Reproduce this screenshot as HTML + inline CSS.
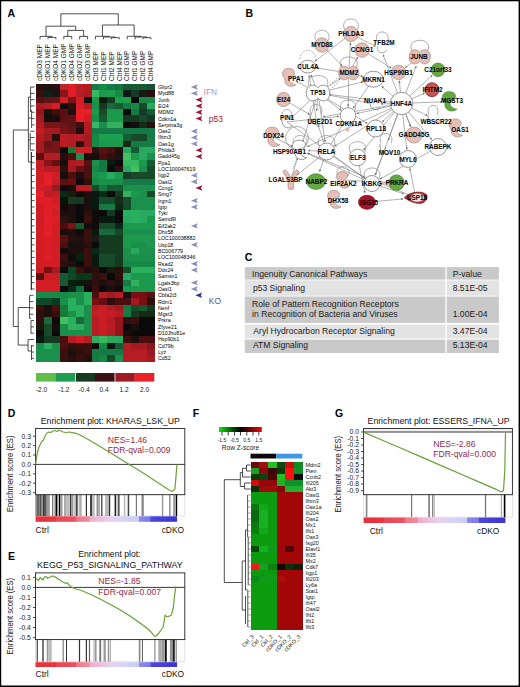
<!DOCTYPE html>
<html><head><meta charset="utf-8"><title>Figure</title>
<style>
html,body{margin:0;padding:0;background:#fff;}
body{width:520px;height:687px;overflow:hidden;}
svg{display:block;font-family:"Liberation Sans", sans-serif;}
</style></head><body>
<svg width="520" height="687" viewBox="0 0 520 687" font-family='"Liberation Sans", sans-serif'>
<rect width="520" height="687" fill="#fff"/>
<text x="7.60" y="17.30" font-size="10.5" fill="#000" text-anchor="start" font-weight="bold" >A</text>
<g shape-rendering="crispEdges">
<rect x="36.10" y="83.90" width="8.22" height="6.61" fill="#271110" />
<rect x="44.02" y="83.90" width="8.22" height="6.61" fill="#1e1110" />
<rect x="51.94" y="83.90" width="8.22" height="6.61" fill="#271110" />
<rect x="59.86" y="83.90" width="8.22" height="6.61" fill="#bc252c" />
<rect x="67.78" y="83.90" width="8.22" height="6.61" fill="#e21d26" />
<rect x="75.70" y="83.90" width="8.22" height="6.61" fill="#bc1d24" />
<rect x="83.62" y="83.90" width="8.22" height="6.61" fill="#b41a21" />
<rect x="91.54" y="83.90" width="8.22" height="6.61" fill="#167a46" />
<rect x="99.46" y="83.90" width="8.22" height="6.61" fill="#168a48" />
<rect x="107.38" y="83.90" width="8.22" height="6.61" fill="#167a46" />
<rect x="115.30" y="83.90" width="8.22" height="6.61" fill="#167041" />
<rect x="123.22" y="83.90" width="8.22" height="6.61" fill="#165a34" />
<rect x="131.14" y="83.90" width="8.22" height="6.61" fill="#165a34" />
<rect x="139.06" y="83.90" width="8.22" height="6.61" fill="#165a34" />
<rect x="146.98" y="83.90" width="8.22" height="6.61" fill="#165032" />
<rect x="36.10" y="90.21" width="8.22" height="6.61" fill="#370f0f" />
<rect x="44.02" y="90.21" width="8.22" height="6.61" fill="#0e2017" />
<rect x="51.94" y="90.21" width="8.22" height="6.61" fill="#181513" />
<rect x="59.86" y="90.21" width="8.22" height="6.61" fill="#871519" />
<rect x="67.78" y="90.21" width="8.22" height="6.61" fill="#e21f28" />
<rect x="75.70" y="90.21" width="8.22" height="6.61" fill="#b41d24" />
<rect x="83.62" y="90.21" width="8.22" height="6.61" fill="#ad1a20" />
<rect x="91.54" y="90.21" width="8.22" height="6.61" fill="#36b868" />
<rect x="99.46" y="90.21" width="8.22" height="6.61" fill="#1b9a4d" />
<rect x="107.38" y="90.21" width="8.22" height="6.61" fill="#1ba04d" />
<rect x="115.30" y="90.21" width="8.22" height="6.61" fill="#168a44" />
<rect x="123.22" y="90.21" width="8.22" height="6.61" fill="#0e1a17" />
<rect x="131.14" y="90.21" width="8.22" height="6.61" fill="#163a29" />
<rect x="139.06" y="90.21" width="8.22" height="6.61" fill="#1a1a10" />
<rect x="146.98" y="90.21" width="8.22" height="6.61" fill="#270f0e" />
<rect x="36.10" y="96.52" width="8.22" height="6.61" fill="#550f10" />
<rect x="44.02" y="96.52" width="8.22" height="6.61" fill="#5a1517" />
<rect x="51.94" y="96.52" width="8.22" height="6.61" fill="#691518" />
<rect x="59.86" y="96.52" width="8.22" height="6.61" fill="#d31d25" />
<rect x="67.78" y="96.52" width="8.22" height="6.61" fill="#781518" />
<rect x="75.70" y="96.52" width="8.22" height="6.61" fill="#d31d25" />
<rect x="83.62" y="96.52" width="8.22" height="6.61" fill="#101010" />
<rect x="91.54" y="96.52" width="8.22" height="6.61" fill="#1b9a4d" />
<rect x="99.46" y="96.52" width="8.22" height="6.61" fill="#081a10" />
<rect x="107.38" y="96.52" width="8.22" height="6.61" fill="#163a20" />
<rect x="115.30" y="96.52" width="8.22" height="6.61" fill="#1ba04d" />
<rect x="123.22" y="96.52" width="8.22" height="6.61" fill="#1ba04d" />
<rect x="131.14" y="96.52" width="8.22" height="6.61" fill="#0a0a0a" />
<rect x="139.06" y="96.52" width="8.22" height="6.61" fill="#1b8a44" />
<rect x="146.98" y="96.52" width="8.22" height="6.61" fill="#1b8a44" />
<rect x="36.10" y="102.83" width="8.22" height="6.61" fill="#a51a20" />
<rect x="44.02" y="102.83" width="8.22" height="6.61" fill="#b41d24" />
<rect x="51.94" y="102.83" width="8.22" height="6.61" fill="#d31d25" />
<rect x="59.86" y="102.83" width="8.22" height="6.61" fill="#100a0a" />
<rect x="67.78" y="102.83" width="8.22" height="6.61" fill="#2d0f0e" />
<rect x="75.70" y="102.83" width="8.22" height="6.61" fill="#da1d26" />
<rect x="83.62" y="102.83" width="8.22" height="6.61" fill="#b41a21" />
<rect x="91.54" y="102.83" width="8.22" height="6.61" fill="#1b904d" />
<rect x="99.46" y="102.83" width="8.22" height="6.61" fill="#163a20" />
<rect x="107.38" y="102.83" width="8.22" height="6.61" fill="#166a3b" />
<rect x="115.30" y="102.83" width="8.22" height="6.61" fill="#165a32" />
<rect x="123.22" y="102.83" width="8.22" height="6.61" fill="#167a44" />
<rect x="131.14" y="102.83" width="8.22" height="6.61" fill="#168a44" />
<rect x="139.06" y="102.83" width="8.22" height="6.61" fill="#164a29" />
<rect x="146.98" y="102.83" width="8.22" height="6.61" fill="#29a85f" />
<rect x="36.10" y="109.14" width="8.22" height="6.61" fill="#96151a" />
<rect x="44.02" y="109.14" width="8.22" height="6.61" fill="#180f0d" />
<rect x="51.94" y="109.14" width="8.22" height="6.61" fill="#3c0f0f" />
<rect x="59.86" y="109.14" width="8.22" height="6.61" fill="#5a0f11" />
<rect x="67.78" y="109.14" width="8.22" height="6.61" fill="#1e0f0e" />
<rect x="75.70" y="109.14" width="8.22" height="6.61" fill="#e91f28" />
<rect x="83.62" y="109.14" width="8.22" height="6.61" fill="#e91f28" />
<rect x="91.54" y="109.14" width="8.22" height="6.61" fill="#1b9a4d" />
<rect x="99.46" y="109.14" width="8.22" height="6.61" fill="#164a29" />
<rect x="107.38" y="109.14" width="8.22" height="6.61" fill="#1b9a4d" />
<rect x="115.30" y="109.14" width="8.22" height="6.61" fill="#1b9a4d" />
<rect x="123.22" y="109.14" width="8.22" height="6.61" fill="#0a0a0a" />
<rect x="131.14" y="109.14" width="8.22" height="6.61" fill="#167a44" />
<rect x="139.06" y="109.14" width="8.22" height="6.61" fill="#163a29" />
<rect x="146.98" y="109.14" width="8.22" height="6.61" fill="#165a32" />
<rect x="36.10" y="115.45" width="8.22" height="6.61" fill="#a51a20" />
<rect x="44.02" y="115.45" width="8.22" height="6.61" fill="#140f0d" />
<rect x="51.94" y="115.45" width="8.22" height="6.61" fill="#180f0d" />
<rect x="59.86" y="115.45" width="8.22" height="6.61" fill="#5a0f11" />
<rect x="67.78" y="115.45" width="8.22" height="6.61" fill="#690f12" />
<rect x="75.70" y="115.45" width="8.22" height="6.61" fill="#e91f28" />
<rect x="83.62" y="115.45" width="8.22" height="6.61" fill="#d31d25" />
<rect x="91.54" y="115.45" width="8.22" height="6.61" fill="#1b904d" />
<rect x="99.46" y="115.45" width="8.22" height="6.61" fill="#165a32" />
<rect x="107.38" y="115.45" width="8.22" height="6.61" fill="#1b9a4d" />
<rect x="115.30" y="115.45" width="8.22" height="6.61" fill="#1b9a4d" />
<rect x="123.22" y="115.45" width="8.22" height="6.61" fill="#163a20" />
<rect x="131.14" y="115.45" width="8.22" height="6.61" fill="#163a20" />
<rect x="139.06" y="115.45" width="8.22" height="6.61" fill="#164a29" />
<rect x="146.98" y="115.45" width="8.22" height="6.61" fill="#163a29" />
<rect x="36.10" y="121.76" width="8.22" height="6.61" fill="#b41a21" />
<rect x="44.02" y="121.76" width="8.22" height="6.61" fill="#781518" />
<rect x="51.94" y="121.76" width="8.22" height="6.61" fill="#781518" />
<rect x="59.86" y="121.76" width="8.22" height="6.61" fill="#691518" />
<rect x="67.78" y="121.76" width="8.22" height="6.61" fill="#5a1517" />
<rect x="75.70" y="121.76" width="8.22" height="6.61" fill="#3c0f0f" />
<rect x="83.62" y="121.76" width="8.22" height="6.61" fill="#b41a21" />
<rect x="91.54" y="121.76" width="8.22" height="6.61" fill="#36b868" />
<rect x="99.46" y="121.76" width="8.22" height="6.61" fill="#1b904d" />
<rect x="107.38" y="121.76" width="8.22" height="6.61" fill="#36b05f" />
<rect x="115.30" y="121.76" width="8.22" height="6.61" fill="#36b05f" />
<rect x="123.22" y="121.76" width="8.22" height="6.61" fill="#0a0a0a" />
<rect x="131.14" y="121.76" width="8.22" height="6.61" fill="#101010" />
<rect x="139.06" y="121.76" width="8.22" height="6.61" fill="#162a17" />
<rect x="146.98" y="121.76" width="8.22" height="6.61" fill="#270f0e" />
<rect x="36.10" y="128.07" width="8.22" height="6.61" fill="#c41d24" />
<rect x="44.02" y="128.07" width="8.22" height="6.61" fill="#a51a20" />
<rect x="51.94" y="128.07" width="8.22" height="6.61" fill="#a51a20" />
<rect x="59.86" y="128.07" width="8.22" height="6.61" fill="#781518" />
<rect x="67.78" y="128.07" width="8.22" height="6.61" fill="#691518" />
<rect x="75.70" y="128.07" width="8.22" height="6.61" fill="#1e0f0e" />
<rect x="83.62" y="128.07" width="8.22" height="6.61" fill="#b41a21" />
<rect x="91.54" y="128.07" width="8.22" height="6.61" fill="#137a48" />
<rect x="99.46" y="128.07" width="8.22" height="6.61" fill="#137a48" />
<rect x="107.38" y="128.07" width="8.22" height="6.61" fill="#137a48" />
<rect x="115.30" y="128.07" width="8.22" height="6.61" fill="#137a48" />
<rect x="123.22" y="128.07" width="8.22" height="6.61" fill="#137a48" />
<rect x="131.14" y="128.07" width="8.22" height="6.61" fill="#137a48" />
<rect x="139.06" y="128.07" width="8.22" height="6.61" fill="#137a48" />
<rect x="146.98" y="128.07" width="8.22" height="6.61" fill="#137a48" />
<rect x="36.10" y="134.38" width="8.22" height="6.61" fill="#b41a21" />
<rect x="44.02" y="134.38" width="8.22" height="6.61" fill="#961a1f" />
<rect x="51.94" y="134.38" width="8.22" height="6.61" fill="#270f0e" />
<rect x="59.86" y="134.38" width="8.22" height="6.61" fill="#bc1d24" />
<rect x="67.78" y="134.38" width="8.22" height="6.61" fill="#b41d24" />
<rect x="75.70" y="134.38" width="8.22" height="6.61" fill="#b41d24" />
<rect x="83.62" y="134.38" width="8.22" height="6.61" fill="#a51a20" />
<rect x="91.54" y="134.38" width="8.22" height="6.61" fill="#168a44" />
<rect x="99.46" y="134.38" width="8.22" height="6.61" fill="#1ba04d" />
<rect x="107.38" y="134.38" width="8.22" height="6.61" fill="#1ba04d" />
<rect x="115.30" y="134.38" width="8.22" height="6.61" fill="#1ba04d" />
<rect x="123.22" y="134.38" width="8.22" height="6.61" fill="#165a32" />
<rect x="131.14" y="134.38" width="8.22" height="6.61" fill="#164a29" />
<rect x="139.06" y="134.38" width="8.22" height="6.61" fill="#164a29" />
<rect x="146.98" y="134.38" width="8.22" height="6.61" fill="#167a44" />
<rect x="36.10" y="140.69" width="8.22" height="6.61" fill="#a51a20" />
<rect x="44.02" y="140.69" width="8.22" height="6.61" fill="#691518" />
<rect x="51.94" y="140.69" width="8.22" height="6.61" fill="#781518" />
<rect x="59.86" y="140.69" width="8.22" height="6.61" fill="#bc1d24" />
<rect x="67.78" y="140.69" width="8.22" height="6.61" fill="#ad1d23" />
<rect x="75.70" y="140.69" width="8.22" height="6.61" fill="#2d0f0e" />
<rect x="83.62" y="140.69" width="8.22" height="6.61" fill="#a51a20" />
<rect x="91.54" y="140.69" width="8.22" height="6.61" fill="#168a44" />
<rect x="99.46" y="140.69" width="8.22" height="6.61" fill="#1b9a4d" />
<rect x="107.38" y="140.69" width="8.22" height="6.61" fill="#1b9a4d" />
<rect x="115.30" y="140.69" width="8.22" height="6.61" fill="#1b9a4d" />
<rect x="123.22" y="140.69" width="8.22" height="6.61" fill="#162a17" />
<rect x="131.14" y="140.69" width="8.22" height="6.61" fill="#167a44" />
<rect x="139.06" y="140.69" width="8.22" height="6.61" fill="#167a44" />
<rect x="146.98" y="140.69" width="8.22" height="6.61" fill="#167a44" />
<rect x="36.10" y="147.00" width="8.22" height="6.61" fill="#a51a20" />
<rect x="44.02" y="147.00" width="8.22" height="6.61" fill="#781518" />
<rect x="51.94" y="147.00" width="8.22" height="6.61" fill="#781518" />
<rect x="59.86" y="147.00" width="8.22" height="6.61" fill="#0a0a0a" />
<rect x="67.78" y="147.00" width="8.22" height="6.61" fill="#167a34" />
<rect x="75.70" y="147.00" width="8.22" height="6.61" fill="#d31d25" />
<rect x="83.62" y="147.00" width="8.22" height="6.61" fill="#cb1d25" />
<rect x="91.54" y="147.00" width="8.22" height="6.61" fill="#2d0f0e" />
<rect x="99.46" y="147.00" width="8.22" height="6.61" fill="#5a0f11" />
<rect x="107.38" y="147.00" width="8.22" height="6.61" fill="#4b0f10" />
<rect x="115.30" y="147.00" width="8.22" height="6.61" fill="#1e0f0e" />
<rect x="123.22" y="147.00" width="8.22" height="6.61" fill="#29a85f" />
<rect x="131.14" y="147.00" width="8.22" height="6.61" fill="#165a32" />
<rect x="139.06" y="147.00" width="8.22" height="6.61" fill="#29a85f" />
<rect x="146.98" y="147.00" width="8.22" height="6.61" fill="#29a85f" />
<rect x="36.10" y="153.31" width="8.22" height="6.61" fill="#5a0f11" />
<rect x="44.02" y="153.31" width="8.22" height="6.61" fill="#b41d24" />
<rect x="51.94" y="153.31" width="8.22" height="6.61" fill="#b41d24" />
<rect x="59.86" y="153.31" width="8.22" height="6.61" fill="#270f0e" />
<rect x="67.78" y="153.31" width="8.22" height="6.61" fill="#4b0f10" />
<rect x="75.70" y="153.31" width="8.22" height="6.61" fill="#1b904d" />
<rect x="83.62" y="153.31" width="8.22" height="6.61" fill="#180f0d" />
<rect x="91.54" y="153.31" width="8.22" height="6.61" fill="#180f0d" />
<rect x="99.46" y="153.31" width="8.22" height="6.61" fill="#4b0f10" />
<rect x="107.38" y="153.31" width="8.22" height="6.61" fill="#2d0f0e" />
<rect x="115.30" y="153.31" width="8.22" height="6.61" fill="#1e0f14" />
<rect x="123.22" y="153.31" width="8.22" height="6.61" fill="#44c05f" />
<rect x="131.14" y="153.31" width="8.22" height="6.61" fill="#1b9a4d" />
<rect x="139.06" y="153.31" width="8.22" height="6.61" fill="#29a85f" />
<rect x="146.98" y="153.31" width="8.22" height="6.61" fill="#1b904d" />
<rect x="36.10" y="159.62" width="8.22" height="6.61" fill="#c41d24" />
<rect x="44.02" y="159.62" width="8.22" height="6.61" fill="#871519" />
<rect x="51.94" y="159.62" width="8.22" height="6.61" fill="#690f12" />
<rect x="59.86" y="159.62" width="8.22" height="6.61" fill="#180f0d" />
<rect x="67.78" y="159.62" width="8.22" height="6.61" fill="#ad1a20" />
<rect x="75.70" y="159.62" width="8.22" height="6.61" fill="#b41d24" />
<rect x="83.62" y="159.62" width="8.22" height="6.61" fill="#5a0f11" />
<rect x="91.54" y="159.62" width="8.22" height="6.61" fill="#1b904d" />
<rect x="99.46" y="159.62" width="8.22" height="6.61" fill="#167a44" />
<rect x="107.38" y="159.62" width="8.22" height="6.61" fill="#081a10" />
<rect x="115.30" y="159.62" width="8.22" height="6.61" fill="#0a0a0a" />
<rect x="123.22" y="159.62" width="8.22" height="6.61" fill="#36b85f" />
<rect x="131.14" y="159.62" width="8.22" height="6.61" fill="#36b85f" />
<rect x="139.06" y="159.62" width="8.22" height="6.61" fill="#1b9a4d" />
<rect x="146.98" y="159.62" width="8.22" height="6.61" fill="#165a32" />
<rect x="36.10" y="165.93" width="8.22" height="6.61" fill="#cb1d25" />
<rect x="44.02" y="165.93" width="8.22" height="6.61" fill="#b41d24" />
<rect x="51.94" y="165.93" width="8.22" height="6.61" fill="#b41d24" />
<rect x="59.86" y="165.93" width="8.22" height="6.61" fill="#2d0f0e" />
<rect x="67.78" y="165.93" width="8.22" height="6.61" fill="#a51a20" />
<rect x="75.70" y="165.93" width="8.22" height="6.61" fill="#690f12" />
<rect x="83.62" y="165.93" width="8.22" height="6.61" fill="#4b0f10" />
<rect x="91.54" y="165.93" width="8.22" height="6.61" fill="#168a44" />
<rect x="99.46" y="165.93" width="8.22" height="6.61" fill="#167a44" />
<rect x="107.38" y="165.93" width="8.22" height="6.61" fill="#0a0a0a" />
<rect x="115.30" y="165.93" width="8.22" height="6.61" fill="#2d0f14" />
<rect x="123.22" y="165.93" width="8.22" height="6.61" fill="#29a85f" />
<rect x="131.14" y="165.93" width="8.22" height="6.61" fill="#44c05f" />
<rect x="139.06" y="165.93" width="8.22" height="6.61" fill="#1b904d" />
<rect x="146.98" y="165.93" width="8.22" height="6.61" fill="#164a29" />
<rect x="36.10" y="172.24" width="8.22" height="6.61" fill="#d31d25" />
<rect x="44.02" y="172.24" width="8.22" height="6.61" fill="#e21f28" />
<rect x="51.94" y="172.24" width="8.22" height="6.61" fill="#d31d25" />
<rect x="59.86" y="172.24" width="8.22" height="6.61" fill="#180f0d" />
<rect x="67.78" y="172.24" width="8.22" height="6.61" fill="#4b0f10" />
<rect x="75.70" y="172.24" width="8.22" height="6.61" fill="#1e0f0e" />
<rect x="83.62" y="172.24" width="8.22" height="6.61" fill="#4b0f10" />
<rect x="91.54" y="172.24" width="8.22" height="6.61" fill="#1b904d" />
<rect x="99.46" y="172.24" width="8.22" height="6.61" fill="#1b9a4d" />
<rect x="107.38" y="172.24" width="8.22" height="6.61" fill="#29a85f" />
<rect x="115.30" y="172.24" width="8.22" height="6.61" fill="#1b9a4d" />
<rect x="123.22" y="172.24" width="8.22" height="6.61" fill="#163a29" />
<rect x="131.14" y="172.24" width="8.22" height="6.61" fill="#164a29" />
<rect x="139.06" y="172.24" width="8.22" height="6.61" fill="#164a29" />
<rect x="146.98" y="172.24" width="8.22" height="6.61" fill="#164a29" />
<rect x="36.10" y="178.55" width="8.22" height="6.61" fill="#d31d25" />
<rect x="44.02" y="178.55" width="8.22" height="6.61" fill="#e91f28" />
<rect x="51.94" y="178.55" width="8.22" height="6.61" fill="#c41d24" />
<rect x="59.86" y="178.55" width="8.22" height="6.61" fill="#5a0f11" />
<rect x="67.78" y="178.55" width="8.22" height="6.61" fill="#690f12" />
<rect x="75.70" y="178.55" width="8.22" height="6.61" fill="#100a0a" />
<rect x="83.62" y="178.55" width="8.22" height="6.61" fill="#2d0f0e" />
<rect x="91.54" y="178.55" width="8.22" height="6.61" fill="#168a44" />
<rect x="99.46" y="178.55" width="8.22" height="6.61" fill="#1b904d" />
<rect x="107.38" y="178.55" width="8.22" height="6.61" fill="#1b904d" />
<rect x="115.30" y="178.55" width="8.22" height="6.61" fill="#1b904d" />
<rect x="123.22" y="178.55" width="8.22" height="6.61" fill="#167a44" />
<rect x="131.14" y="178.55" width="8.22" height="6.61" fill="#167a44" />
<rect x="139.06" y="178.55" width="8.22" height="6.61" fill="#167a44" />
<rect x="146.98" y="178.55" width="8.22" height="6.61" fill="#167a44" />
<rect x="36.10" y="184.86" width="8.22" height="6.61" fill="#d31d25" />
<rect x="44.02" y="184.86" width="8.22" height="6.61" fill="#cb1d25" />
<rect x="51.94" y="184.86" width="8.22" height="6.61" fill="#961a1f" />
<rect x="59.86" y="184.86" width="8.22" height="6.61" fill="#100a0a" />
<rect x="67.78" y="184.86" width="8.22" height="6.61" fill="#180f0d" />
<rect x="75.70" y="184.86" width="8.22" height="6.61" fill="#b41d24" />
<rect x="83.62" y="184.86" width="8.22" height="6.61" fill="#bc1d24" />
<rect x="91.54" y="184.86" width="8.22" height="6.61" fill="#164a29" />
<rect x="99.46" y="184.86" width="8.22" height="6.61" fill="#167a44" />
<rect x="107.38" y="184.86" width="8.22" height="6.61" fill="#165a32" />
<rect x="115.30" y="184.86" width="8.22" height="6.61" fill="#165a32" />
<rect x="123.22" y="184.86" width="8.22" height="6.61" fill="#1b904d" />
<rect x="131.14" y="184.86" width="8.22" height="6.61" fill="#1b904d" />
<rect x="139.06" y="184.86" width="8.22" height="6.61" fill="#1b904d" />
<rect x="146.98" y="184.86" width="8.22" height="6.61" fill="#1b904d" />
<rect x="36.10" y="191.17" width="8.22" height="6.61" fill="#e91f28" />
<rect x="44.02" y="191.17" width="8.22" height="6.61" fill="#bc1d24" />
<rect x="51.94" y="191.17" width="8.22" height="6.61" fill="#c41d24" />
<rect x="59.86" y="191.17" width="8.22" height="6.61" fill="#082a17" />
<rect x="67.78" y="191.17" width="8.22" height="6.61" fill="#1a1a0a" />
<rect x="75.70" y="191.17" width="8.22" height="6.61" fill="#100a0a" />
<rect x="83.62" y="191.17" width="8.22" height="6.61" fill="#1e0f0e" />
<rect x="91.54" y="191.17" width="8.22" height="6.61" fill="#081a10" />
<rect x="99.46" y="191.17" width="8.22" height="6.61" fill="#082a17" />
<rect x="107.38" y="191.17" width="8.22" height="6.61" fill="#0a0a0a" />
<rect x="115.30" y="191.17" width="8.22" height="6.61" fill="#163a20" />
<rect x="123.22" y="191.17" width="8.22" height="6.61" fill="#36b05f" />
<rect x="131.14" y="191.17" width="8.22" height="6.61" fill="#1b9a4d" />
<rect x="139.06" y="191.17" width="8.22" height="6.61" fill="#1b904d" />
<rect x="146.98" y="191.17" width="8.22" height="6.61" fill="#164a29" />
<rect x="36.10" y="197.48" width="8.22" height="6.61" fill="#da1d26" />
<rect x="44.02" y="197.48" width="8.22" height="6.61" fill="#e21f28" />
<rect x="51.94" y="197.48" width="8.22" height="6.61" fill="#d31d25" />
<rect x="59.86" y="197.48" width="8.22" height="6.61" fill="#0a100a" />
<rect x="67.78" y="197.48" width="8.22" height="6.61" fill="#163a22" />
<rect x="75.70" y="197.48" width="8.22" height="6.61" fill="#163a22" />
<rect x="83.62" y="197.48" width="8.22" height="6.61" fill="#180f0d" />
<rect x="91.54" y="197.48" width="8.22" height="6.61" fill="#081a10" />
<rect x="99.46" y="197.48" width="8.22" height="6.61" fill="#164a29" />
<rect x="107.38" y="197.48" width="8.22" height="6.61" fill="#164a29" />
<rect x="115.30" y="197.48" width="8.22" height="6.61" fill="#162a17" />
<rect x="123.22" y="197.48" width="8.22" height="6.61" fill="#164a29" />
<rect x="131.14" y="197.48" width="8.22" height="6.61" fill="#1b904d" />
<rect x="139.06" y="197.48" width="8.22" height="6.61" fill="#1b904d" />
<rect x="146.98" y="197.48" width="8.22" height="6.61" fill="#1b904d" />
<rect x="36.10" y="203.79" width="8.22" height="6.61" fill="#d31d25" />
<rect x="44.02" y="203.79" width="8.22" height="6.61" fill="#e21f28" />
<rect x="51.94" y="203.79" width="8.22" height="6.61" fill="#da1d26" />
<rect x="59.86" y="203.79" width="8.22" height="6.61" fill="#100a0a" />
<rect x="67.78" y="203.79" width="8.22" height="6.61" fill="#1e0f0e" />
<rect x="75.70" y="203.79" width="8.22" height="6.61" fill="#0a0a0a" />
<rect x="83.62" y="203.79" width="8.22" height="6.61" fill="#1e0f0e" />
<rect x="91.54" y="203.79" width="8.22" height="6.61" fill="#081a10" />
<rect x="99.46" y="203.79" width="8.22" height="6.61" fill="#167a44" />
<rect x="107.38" y="203.79" width="8.22" height="6.61" fill="#167a44" />
<rect x="115.30" y="203.79" width="8.22" height="6.61" fill="#082a17" />
<rect x="123.22" y="203.79" width="8.22" height="6.61" fill="#164a29" />
<rect x="131.14" y="203.79" width="8.22" height="6.61" fill="#1b904d" />
<rect x="139.06" y="203.79" width="8.22" height="6.61" fill="#1b904d" />
<rect x="146.98" y="203.79" width="8.22" height="6.61" fill="#1b904d" />
<rect x="36.10" y="210.10" width="8.22" height="6.61" fill="#d31d25" />
<rect x="44.02" y="210.10" width="8.22" height="6.61" fill="#e21f28" />
<rect x="51.94" y="210.10" width="8.22" height="6.61" fill="#d31d25" />
<rect x="59.86" y="210.10" width="8.22" height="6.61" fill="#1e0f0e" />
<rect x="67.78" y="210.10" width="8.22" height="6.61" fill="#1e0f0e" />
<rect x="75.70" y="210.10" width="8.22" height="6.61" fill="#0a0a0a" />
<rect x="83.62" y="210.10" width="8.22" height="6.61" fill="#2d0f0e" />
<rect x="91.54" y="210.10" width="8.22" height="6.61" fill="#100a0a" />
<rect x="99.46" y="210.10" width="8.22" height="6.61" fill="#0a0a0a" />
<rect x="107.38" y="210.10" width="8.22" height="6.61" fill="#163a20" />
<rect x="115.30" y="210.10" width="8.22" height="6.61" fill="#0a0a0a" />
<rect x="123.22" y="210.10" width="8.22" height="6.61" fill="#29b05f" />
<rect x="131.14" y="210.10" width="8.22" height="6.61" fill="#29b05f" />
<rect x="139.06" y="210.10" width="8.22" height="6.61" fill="#29a85f" />
<rect x="146.98" y="210.10" width="8.22" height="6.61" fill="#29a85f" />
<rect x="36.10" y="216.41" width="8.22" height="6.61" fill="#cb1d25" />
<rect x="44.02" y="216.41" width="8.22" height="6.61" fill="#e21f28" />
<rect x="51.94" y="216.41" width="8.22" height="6.61" fill="#da1d26" />
<rect x="59.86" y="216.41" width="8.22" height="6.61" fill="#2d0f0e" />
<rect x="67.78" y="216.41" width="8.22" height="6.61" fill="#1e0f0e" />
<rect x="75.70" y="216.41" width="8.22" height="6.61" fill="#0a0a0a" />
<rect x="83.62" y="216.41" width="8.22" height="6.61" fill="#3c0f0f" />
<rect x="91.54" y="216.41" width="8.22" height="6.61" fill="#100a0a" />
<rect x="99.46" y="216.41" width="8.22" height="6.61" fill="#081a10" />
<rect x="107.38" y="216.41" width="8.22" height="6.61" fill="#081a10" />
<rect x="115.30" y="216.41" width="8.22" height="6.61" fill="#0a0a0a" />
<rect x="123.22" y="216.41" width="8.22" height="6.61" fill="#29a85f" />
<rect x="131.14" y="216.41" width="8.22" height="6.61" fill="#29b05f" />
<rect x="139.06" y="216.41" width="8.22" height="6.61" fill="#29a85f" />
<rect x="146.98" y="216.41" width="8.22" height="6.61" fill="#1b9a4d" />
<rect x="36.10" y="222.72" width="8.22" height="6.61" fill="#d31d25" />
<rect x="44.02" y="222.72" width="8.22" height="6.61" fill="#e21f28" />
<rect x="51.94" y="222.72" width="8.22" height="6.61" fill="#d31d25" />
<rect x="59.86" y="222.72" width="8.22" height="6.61" fill="#4b0f10" />
<rect x="67.78" y="222.72" width="8.22" height="6.61" fill="#781518" />
<rect x="75.70" y="222.72" width="8.22" height="6.61" fill="#165a29" />
<rect x="83.62" y="222.72" width="8.22" height="6.61" fill="#180f0d" />
<rect x="91.54" y="222.72" width="8.22" height="6.61" fill="#100a0a" />
<rect x="99.46" y="222.72" width="8.22" height="6.61" fill="#164a29" />
<rect x="107.38" y="222.72" width="8.22" height="6.61" fill="#164a29" />
<rect x="115.30" y="222.72" width="8.22" height="6.61" fill="#082a17" />
<rect x="123.22" y="222.72" width="8.22" height="6.61" fill="#1b9a4d" />
<rect x="131.14" y="222.72" width="8.22" height="6.61" fill="#1b9a4d" />
<rect x="139.06" y="222.72" width="8.22" height="6.61" fill="#1b9a4d" />
<rect x="146.98" y="222.72" width="8.22" height="6.61" fill="#1b9a4d" />
<rect x="36.10" y="229.03" width="8.22" height="6.61" fill="#d31d25" />
<rect x="44.02" y="229.03" width="8.22" height="6.61" fill="#e21f28" />
<rect x="51.94" y="229.03" width="8.22" height="6.61" fill="#d31d25" />
<rect x="59.86" y="229.03" width="8.22" height="6.61" fill="#180f0d" />
<rect x="67.78" y="229.03" width="8.22" height="6.61" fill="#1e0f0e" />
<rect x="75.70" y="229.03" width="8.22" height="6.61" fill="#100a0a" />
<rect x="83.62" y="229.03" width="8.22" height="6.61" fill="#3c0f0f" />
<rect x="91.54" y="229.03" width="8.22" height="6.61" fill="#081a10" />
<rect x="99.46" y="229.03" width="8.22" height="6.61" fill="#166a3b" />
<rect x="107.38" y="229.03" width="8.22" height="6.61" fill="#166a3b" />
<rect x="115.30" y="229.03" width="8.22" height="6.61" fill="#164a29" />
<rect x="123.22" y="229.03" width="8.22" height="6.61" fill="#1b904d" />
<rect x="131.14" y="229.03" width="8.22" height="6.61" fill="#1b904d" />
<rect x="139.06" y="229.03" width="8.22" height="6.61" fill="#1b904d" />
<rect x="146.98" y="229.03" width="8.22" height="6.61" fill="#1b904d" />
<rect x="36.10" y="235.34" width="8.22" height="6.61" fill="#d31d25" />
<rect x="44.02" y="235.34" width="8.22" height="6.61" fill="#da1d26" />
<rect x="51.94" y="235.34" width="8.22" height="6.61" fill="#d31d25" />
<rect x="59.86" y="235.34" width="8.22" height="6.61" fill="#5a0f11" />
<rect x="67.78" y="235.34" width="8.22" height="6.61" fill="#270f0e" />
<rect x="75.70" y="235.34" width="8.22" height="6.61" fill="#1e0f0e" />
<rect x="83.62" y="235.34" width="8.22" height="6.61" fill="#3c0f0f" />
<rect x="91.54" y="235.34" width="8.22" height="6.61" fill="#1a1a10" />
<rect x="99.46" y="235.34" width="8.22" height="6.61" fill="#163a20" />
<rect x="107.38" y="235.34" width="8.22" height="6.61" fill="#163a20" />
<rect x="115.30" y="235.34" width="8.22" height="6.61" fill="#163a20" />
<rect x="123.22" y="235.34" width="8.22" height="6.61" fill="#1b9a4d" />
<rect x="131.14" y="235.34" width="8.22" height="6.61" fill="#1b9a4d" />
<rect x="139.06" y="235.34" width="8.22" height="6.61" fill="#1b9a4d" />
<rect x="146.98" y="235.34" width="8.22" height="6.61" fill="#1b9a4d" />
<rect x="36.10" y="241.65" width="8.22" height="6.61" fill="#d31d25" />
<rect x="44.02" y="241.65" width="8.22" height="6.61" fill="#da1d26" />
<rect x="51.94" y="241.65" width="8.22" height="6.61" fill="#d31d25" />
<rect x="59.86" y="241.65" width="8.22" height="6.61" fill="#4b0f10" />
<rect x="67.78" y="241.65" width="8.22" height="6.61" fill="#180f0d" />
<rect x="75.70" y="241.65" width="8.22" height="6.61" fill="#1e0f0e" />
<rect x="83.62" y="241.65" width="8.22" height="6.61" fill="#2d0f0e" />
<rect x="91.54" y="241.65" width="8.22" height="6.61" fill="#0a0a0a" />
<rect x="99.46" y="241.65" width="8.22" height="6.61" fill="#163a20" />
<rect x="107.38" y="241.65" width="8.22" height="6.61" fill="#163a20" />
<rect x="115.30" y="241.65" width="8.22" height="6.61" fill="#163a20" />
<rect x="123.22" y="241.65" width="8.22" height="6.61" fill="#1b9a4d" />
<rect x="131.14" y="241.65" width="8.22" height="6.61" fill="#1b904d" />
<rect x="139.06" y="241.65" width="8.22" height="6.61" fill="#1b904d" />
<rect x="146.98" y="241.65" width="8.22" height="6.61" fill="#1b9a4d" />
<rect x="36.10" y="247.96" width="8.22" height="6.61" fill="#d31d25" />
<rect x="44.02" y="247.96" width="8.22" height="6.61" fill="#da1d26" />
<rect x="51.94" y="247.96" width="8.22" height="6.61" fill="#d31d25" />
<rect x="59.86" y="247.96" width="8.22" height="6.61" fill="#100a0a" />
<rect x="67.78" y="247.96" width="8.22" height="6.61" fill="#1e0f0e" />
<rect x="75.70" y="247.96" width="8.22" height="6.61" fill="#1e0f0e" />
<rect x="83.62" y="247.96" width="8.22" height="6.61" fill="#3c0f0f" />
<rect x="91.54" y="247.96" width="8.22" height="6.61" fill="#082a17" />
<rect x="99.46" y="247.96" width="8.22" height="6.61" fill="#163a20" />
<rect x="107.38" y="247.96" width="8.22" height="6.61" fill="#163a20" />
<rect x="115.30" y="247.96" width="8.22" height="6.61" fill="#163a20" />
<rect x="123.22" y="247.96" width="8.22" height="6.61" fill="#1b904d" />
<rect x="131.14" y="247.96" width="8.22" height="6.61" fill="#29a85f" />
<rect x="139.06" y="247.96" width="8.22" height="6.61" fill="#1b904d" />
<rect x="146.98" y="247.96" width="8.22" height="6.61" fill="#1b904d" />
<rect x="36.10" y="254.27" width="8.22" height="6.61" fill="#d31d25" />
<rect x="44.02" y="254.27" width="8.22" height="6.61" fill="#da1d26" />
<rect x="51.94" y="254.27" width="8.22" height="6.61" fill="#d31d25" />
<rect x="59.86" y="254.27" width="8.22" height="6.61" fill="#3c0f0f" />
<rect x="67.78" y="254.27" width="8.22" height="6.61" fill="#100a0a" />
<rect x="75.70" y="254.27" width="8.22" height="6.61" fill="#082010" />
<rect x="83.62" y="254.27" width="8.22" height="6.61" fill="#3c0f0f" />
<rect x="91.54" y="254.27" width="8.22" height="6.61" fill="#081a10" />
<rect x="99.46" y="254.27" width="8.22" height="6.61" fill="#164a29" />
<rect x="107.38" y="254.27" width="8.22" height="6.61" fill="#164a29" />
<rect x="115.30" y="254.27" width="8.22" height="6.61" fill="#163a20" />
<rect x="123.22" y="254.27" width="8.22" height="6.61" fill="#1b904d" />
<rect x="131.14" y="254.27" width="8.22" height="6.61" fill="#1b904d" />
<rect x="139.06" y="254.27" width="8.22" height="6.61" fill="#1b904d" />
<rect x="146.98" y="254.27" width="8.22" height="6.61" fill="#1b904d" />
<rect x="36.10" y="260.58" width="8.22" height="6.61" fill="#d31d25" />
<rect x="44.02" y="260.58" width="8.22" height="6.61" fill="#d31d25" />
<rect x="51.94" y="260.58" width="8.22" height="6.61" fill="#d31d25" />
<rect x="59.86" y="260.58" width="8.22" height="6.61" fill="#2d0f0e" />
<rect x="67.78" y="260.58" width="8.22" height="6.61" fill="#1e0f0e" />
<rect x="75.70" y="260.58" width="8.22" height="6.61" fill="#0a0a0a" />
<rect x="83.62" y="260.58" width="8.22" height="6.61" fill="#3c0f0f" />
<rect x="91.54" y="260.58" width="8.22" height="6.61" fill="#081a10" />
<rect x="99.46" y="260.58" width="8.22" height="6.61" fill="#164a29" />
<rect x="107.38" y="260.58" width="8.22" height="6.61" fill="#164a29" />
<rect x="115.30" y="260.58" width="8.22" height="6.61" fill="#163a20" />
<rect x="123.22" y="260.58" width="8.22" height="6.61" fill="#168a44" />
<rect x="131.14" y="260.58" width="8.22" height="6.61" fill="#168a44" />
<rect x="139.06" y="260.58" width="8.22" height="6.61" fill="#168a44" />
<rect x="146.98" y="260.58" width="8.22" height="6.61" fill="#168a44" />
<rect x="36.10" y="266.89" width="8.22" height="6.61" fill="#cb1d25" />
<rect x="44.02" y="266.89" width="8.22" height="6.61" fill="#780f12" />
<rect x="51.94" y="266.89" width="8.22" height="6.61" fill="#a51a20" />
<rect x="59.86" y="266.89" width="8.22" height="6.61" fill="#0a0a0a" />
<rect x="67.78" y="266.89" width="8.22" height="6.61" fill="#084a22" />
<rect x="75.70" y="266.89" width="8.22" height="6.61" fill="#3c0f0f" />
<rect x="83.62" y="266.89" width="8.22" height="6.61" fill="#1e0f0e" />
<rect x="91.54" y="266.89" width="8.22" height="6.61" fill="#2d0f0e" />
<rect x="99.46" y="266.89" width="8.22" height="6.61" fill="#0a0a0a" />
<rect x="107.38" y="266.89" width="8.22" height="6.61" fill="#1a1a0a" />
<rect x="115.30" y="266.89" width="8.22" height="6.61" fill="#2d0f0e" />
<rect x="123.22" y="266.89" width="8.22" height="6.61" fill="#164a29" />
<rect x="131.14" y="266.89" width="8.22" height="6.61" fill="#29b05f" />
<rect x="139.06" y="266.89" width="8.22" height="6.61" fill="#29b05f" />
<rect x="146.98" y="266.89" width="8.22" height="6.61" fill="#29b05f" />
<rect x="36.10" y="273.20" width="8.22" height="6.61" fill="#5a0f11" />
<rect x="44.02" y="273.20" width="8.22" height="6.61" fill="#cb1d25" />
<rect x="51.94" y="273.20" width="8.22" height="6.61" fill="#cb1d25" />
<rect x="59.86" y="273.20" width="8.22" height="6.61" fill="#165a32" />
<rect x="67.78" y="273.20" width="8.22" height="6.61" fill="#0e4a29" />
<rect x="75.70" y="273.20" width="8.22" height="6.61" fill="#083a17" />
<rect x="83.62" y="273.20" width="8.22" height="6.61" fill="#083a17" />
<rect x="91.54" y="273.20" width="8.22" height="6.61" fill="#2d0f0e" />
<rect x="99.46" y="273.20" width="8.22" height="6.61" fill="#3c0f0f" />
<rect x="107.38" y="273.20" width="8.22" height="6.61" fill="#0a0a0a" />
<rect x="115.30" y="273.20" width="8.22" height="6.61" fill="#2d0f0e" />
<rect x="123.22" y="273.20" width="8.22" height="6.61" fill="#29a85f" />
<rect x="131.14" y="273.20" width="8.22" height="6.61" fill="#1b9a4d" />
<rect x="139.06" y="273.20" width="8.22" height="6.61" fill="#1b9a4d" />
<rect x="146.98" y="273.20" width="8.22" height="6.61" fill="#1b9a4d" />
<rect x="36.10" y="279.51" width="8.22" height="6.61" fill="#d31d25" />
<rect x="44.02" y="279.51" width="8.22" height="6.61" fill="#d31d25" />
<rect x="51.94" y="279.51" width="8.22" height="6.61" fill="#d31d25" />
<rect x="59.86" y="279.51" width="8.22" height="6.61" fill="#165a32" />
<rect x="67.78" y="279.51" width="8.22" height="6.61" fill="#082010" />
<rect x="75.70" y="279.51" width="8.22" height="6.61" fill="#081a10" />
<rect x="83.62" y="279.51" width="8.22" height="6.61" fill="#180f0d" />
<rect x="91.54" y="279.51" width="8.22" height="6.61" fill="#2d0f0e" />
<rect x="99.46" y="279.51" width="8.22" height="6.61" fill="#1e0f0e" />
<rect x="107.38" y="279.51" width="8.22" height="6.61" fill="#2d0f0e" />
<rect x="115.30" y="279.51" width="8.22" height="6.61" fill="#1e0f0e" />
<rect x="123.22" y="279.51" width="8.22" height="6.61" fill="#167a44" />
<rect x="131.14" y="279.51" width="8.22" height="6.61" fill="#36b05f" />
<rect x="139.06" y="279.51" width="8.22" height="6.61" fill="#1b9a4d" />
<rect x="146.98" y="279.51" width="8.22" height="6.61" fill="#1b9a4d" />
<rect x="36.10" y="285.82" width="8.22" height="6.61" fill="#d31d25" />
<rect x="44.02" y="285.82" width="8.22" height="6.61" fill="#d31d25" />
<rect x="51.94" y="285.82" width="8.22" height="6.61" fill="#d31d25" />
<rect x="59.86" y="285.82" width="8.22" height="6.61" fill="#0a0a0a" />
<rect x="67.78" y="285.82" width="8.22" height="6.61" fill="#082a17" />
<rect x="75.70" y="285.82" width="8.22" height="6.61" fill="#166a3b" />
<rect x="83.62" y="285.82" width="8.22" height="6.61" fill="#100a0a" />
<rect x="91.54" y="285.82" width="8.22" height="6.61" fill="#3c0f0f" />
<rect x="99.46" y="285.82" width="8.22" height="6.61" fill="#0a0a0a" />
<rect x="107.38" y="285.82" width="8.22" height="6.61" fill="#1e0f0e" />
<rect x="115.30" y="285.82" width="8.22" height="6.61" fill="#100a0a" />
<rect x="123.22" y="285.82" width="8.22" height="6.61" fill="#1b9a4d" />
<rect x="131.14" y="285.82" width="8.22" height="6.61" fill="#1b9a4d" />
<rect x="139.06" y="285.82" width="8.22" height="6.61" fill="#1b9a4d" />
<rect x="146.98" y="285.82" width="8.22" height="6.61" fill="#1b9a4d" />
<rect x="36.10" y="292.13" width="8.22" height="6.61" fill="#168a46" />
<rect x="44.02" y="292.13" width="8.22" height="6.61" fill="#168a46" />
<rect x="51.94" y="292.13" width="8.22" height="6.61" fill="#168a46" />
<rect x="59.86" y="292.13" width="8.22" height="6.61" fill="#168a46" />
<rect x="67.78" y="292.13" width="8.22" height="6.61" fill="#1b904d" />
<rect x="75.70" y="292.13" width="8.22" height="6.61" fill="#1b904d" />
<rect x="83.62" y="292.13" width="8.22" height="6.61" fill="#29b05f" />
<rect x="91.54" y="292.13" width="8.22" height="6.61" fill="#4b0f10" />
<rect x="99.46" y="292.13" width="8.22" height="6.61" fill="#b41d24" />
<rect x="107.38" y="292.13" width="8.22" height="6.61" fill="#a51a20" />
<rect x="115.30" y="292.13" width="8.22" height="6.61" fill="#bc1d24" />
<rect x="123.22" y="292.13" width="8.22" height="6.61" fill="#180f0d" />
<rect x="131.14" y="292.13" width="8.22" height="6.61" fill="#780f12" />
<rect x="139.06" y="292.13" width="8.22" height="6.61" fill="#780f12" />
<rect x="146.98" y="292.13" width="8.22" height="6.61" fill="#5a0f11" />
<rect x="36.10" y="298.44" width="8.22" height="6.61" fill="#0e4a29" />
<rect x="44.02" y="298.44" width="8.22" height="6.61" fill="#0e4a29" />
<rect x="51.94" y="298.44" width="8.22" height="6.61" fill="#083a20" />
<rect x="59.86" y="298.44" width="8.22" height="6.61" fill="#1b904d" />
<rect x="67.78" y="298.44" width="8.22" height="6.61" fill="#29b05f" />
<rect x="75.70" y="298.44" width="8.22" height="6.61" fill="#1b904d" />
<rect x="83.62" y="298.44" width="8.22" height="6.61" fill="#29b05f" />
<rect x="91.54" y="298.44" width="8.22" height="6.61" fill="#780f12" />
<rect x="99.46" y="298.44" width="8.22" height="6.61" fill="#690f12" />
<rect x="107.38" y="298.44" width="8.22" height="6.61" fill="#2d0f0e" />
<rect x="115.30" y="298.44" width="8.22" height="6.61" fill="#4b0f10" />
<rect x="123.22" y="298.44" width="8.22" height="6.61" fill="#4b0f10" />
<rect x="131.14" y="298.44" width="8.22" height="6.61" fill="#a51a20" />
<rect x="139.06" y="298.44" width="8.22" height="6.61" fill="#780f12" />
<rect x="146.98" y="298.44" width="8.22" height="6.61" fill="#2d0f0e" />
<rect x="36.10" y="304.75" width="8.22" height="6.61" fill="#3c0f0f" />
<rect x="44.02" y="304.75" width="8.22" height="6.61" fill="#180f0d" />
<rect x="51.94" y="304.75" width="8.22" height="6.61" fill="#4b0f10" />
<rect x="59.86" y="304.75" width="8.22" height="6.61" fill="#167a3b" />
<rect x="67.78" y="304.75" width="8.22" height="6.61" fill="#29b05f" />
<rect x="75.70" y="304.75" width="8.22" height="6.61" fill="#29b05f" />
<rect x="83.62" y="304.75" width="8.22" height="6.61" fill="#1b904d" />
<rect x="91.54" y="304.75" width="8.22" height="6.61" fill="#b41d24" />
<rect x="99.46" y="304.75" width="8.22" height="6.61" fill="#cb1d25" />
<rect x="107.38" y="304.75" width="8.22" height="6.61" fill="#b41d24" />
<rect x="115.30" y="304.75" width="8.22" height="6.61" fill="#a51a20" />
<rect x="123.22" y="304.75" width="8.22" height="6.61" fill="#167a44" />
<rect x="131.14" y="304.75" width="8.22" height="6.61" fill="#164a29" />
<rect x="139.06" y="304.75" width="8.22" height="6.61" fill="#165a32" />
<rect x="146.98" y="304.75" width="8.22" height="6.61" fill="#163a20" />
<rect x="36.10" y="311.06" width="8.22" height="6.61" fill="#2d0f0e" />
<rect x="44.02" y="311.06" width="8.22" height="6.61" fill="#1e0f0e" />
<rect x="51.94" y="311.06" width="8.22" height="6.61" fill="#3c0f0f" />
<rect x="59.86" y="311.06" width="8.22" height="6.61" fill="#167a3b" />
<rect x="67.78" y="311.06" width="8.22" height="6.61" fill="#1b904d" />
<rect x="75.70" y="311.06" width="8.22" height="6.61" fill="#29b05f" />
<rect x="83.62" y="311.06" width="8.22" height="6.61" fill="#1b904d" />
<rect x="91.54" y="311.06" width="8.22" height="6.61" fill="#c41d24" />
<rect x="99.46" y="311.06" width="8.22" height="6.61" fill="#cb1d25" />
<rect x="107.38" y="311.06" width="8.22" height="6.61" fill="#c41d24" />
<rect x="115.30" y="311.06" width="8.22" height="6.61" fill="#b41d24" />
<rect x="123.22" y="311.06" width="8.22" height="6.61" fill="#167a44" />
<rect x="131.14" y="311.06" width="8.22" height="6.61" fill="#163a20" />
<rect x="139.06" y="311.06" width="8.22" height="6.61" fill="#162a17" />
<rect x="146.98" y="311.06" width="8.22" height="6.61" fill="#162a17" />
<rect x="36.10" y="317.37" width="8.22" height="6.61" fill="#2d0f0e" />
<rect x="44.02" y="317.37" width="8.22" height="6.61" fill="#166a3b" />
<rect x="51.94" y="317.37" width="8.22" height="6.61" fill="#100a0a" />
<rect x="59.86" y="317.37" width="8.22" height="6.61" fill="#44c05f" />
<rect x="67.78" y="317.37" width="8.22" height="6.61" fill="#29b05f" />
<rect x="75.70" y="317.37" width="8.22" height="6.61" fill="#166a3b" />
<rect x="83.62" y="317.37" width="8.22" height="6.61" fill="#1b904d" />
<rect x="91.54" y="317.37" width="8.22" height="6.61" fill="#b41d24" />
<rect x="99.46" y="317.37" width="8.22" height="6.61" fill="#cb1d25" />
<rect x="107.38" y="317.37" width="8.22" height="6.61" fill="#b41d24" />
<rect x="115.30" y="317.37" width="8.22" height="6.61" fill="#96151a" />
<rect x="123.22" y="317.37" width="8.22" height="6.61" fill="#2d0f0e" />
<rect x="131.14" y="317.37" width="8.22" height="6.61" fill="#3c0f0f" />
<rect x="139.06" y="317.37" width="8.22" height="6.61" fill="#0a0a0a" />
<rect x="146.98" y="317.37" width="8.22" height="6.61" fill="#0a0a0a" />
<rect x="36.10" y="323.68" width="8.22" height="6.61" fill="#1a1a0a" />
<rect x="44.02" y="323.68" width="8.22" height="6.61" fill="#164a29" />
<rect x="51.94" y="323.68" width="8.22" height="6.61" fill="#180f0d" />
<rect x="59.86" y="323.68" width="8.22" height="6.61" fill="#1b904d" />
<rect x="67.78" y="323.68" width="8.22" height="6.61" fill="#36b05f" />
<rect x="75.70" y="323.68" width="8.22" height="6.61" fill="#29b05f" />
<rect x="83.62" y="323.68" width="8.22" height="6.61" fill="#1b904d" />
<rect x="91.54" y="323.68" width="8.22" height="6.61" fill="#bc1d24" />
<rect x="99.46" y="323.68" width="8.22" height="6.61" fill="#cb1d25" />
<rect x="107.38" y="323.68" width="8.22" height="6.61" fill="#bc1d24" />
<rect x="115.30" y="323.68" width="8.22" height="6.61" fill="#96151a" />
<rect x="123.22" y="323.68" width="8.22" height="6.61" fill="#0a0a0a" />
<rect x="131.14" y="323.68" width="8.22" height="6.61" fill="#180f0d" />
<rect x="139.06" y="323.68" width="8.22" height="6.61" fill="#0a0a0a" />
<rect x="146.98" y="323.68" width="8.22" height="6.61" fill="#0a0a0a" />
<rect x="36.10" y="329.99" width="8.22" height="6.61" fill="#100a0a" />
<rect x="44.02" y="329.99" width="8.22" height="6.61" fill="#164a29" />
<rect x="51.94" y="329.99" width="8.22" height="6.61" fill="#0a0a0a" />
<rect x="59.86" y="329.99" width="8.22" height="6.61" fill="#1b904d" />
<rect x="67.78" y="329.99" width="8.22" height="6.61" fill="#1b904d" />
<rect x="75.70" y="329.99" width="8.22" height="6.61" fill="#1b904d" />
<rect x="83.62" y="329.99" width="8.22" height="6.61" fill="#1b904d" />
<rect x="91.54" y="329.99" width="8.22" height="6.61" fill="#bc1d24" />
<rect x="99.46" y="329.99" width="8.22" height="6.61" fill="#cb1d25" />
<rect x="107.38" y="329.99" width="8.22" height="6.61" fill="#b41d24" />
<rect x="115.30" y="329.99" width="8.22" height="6.61" fill="#96151a" />
<rect x="123.22" y="329.99" width="8.22" height="6.61" fill="#180f0d" />
<rect x="131.14" y="329.99" width="8.22" height="6.61" fill="#0a0a0a" />
<rect x="139.06" y="329.99" width="8.22" height="6.61" fill="#0a0a0a" />
<rect x="146.98" y="329.99" width="8.22" height="6.61" fill="#0a0a0a" />
<rect x="36.10" y="336.30" width="8.22" height="6.61" fill="#081a10" />
<rect x="44.02" y="336.30" width="8.22" height="6.61" fill="#163a22" />
<rect x="51.94" y="336.30" width="8.22" height="6.61" fill="#163a22" />
<rect x="59.86" y="336.30" width="8.22" height="6.61" fill="#4b0f10" />
<rect x="67.78" y="336.30" width="8.22" height="6.61" fill="#b41d24" />
<rect x="75.70" y="336.30" width="8.22" height="6.61" fill="#d31d25" />
<rect x="83.62" y="336.30" width="8.22" height="6.61" fill="#b41d24" />
<rect x="91.54" y="336.30" width="8.22" height="6.61" fill="#29b05f" />
<rect x="99.46" y="336.30" width="8.22" height="6.61" fill="#36b85f" />
<rect x="107.38" y="336.30" width="8.22" height="6.61" fill="#29a85f" />
<rect x="115.30" y="336.30" width="8.22" height="6.61" fill="#29a85f" />
<rect x="123.22" y="336.30" width="8.22" height="6.61" fill="#3c0f0f" />
<rect x="131.14" y="336.30" width="8.22" height="6.61" fill="#1e0f0e" />
<rect x="139.06" y="336.30" width="8.22" height="6.61" fill="#4b0f10" />
<rect x="146.98" y="336.30" width="8.22" height="6.61" fill="#4b0f10" />
<rect x="36.10" y="342.61" width="8.22" height="6.61" fill="#1b904d" />
<rect x="44.02" y="342.61" width="8.22" height="6.61" fill="#29b05f" />
<rect x="51.94" y="342.61" width="8.22" height="6.61" fill="#1b904d" />
<rect x="59.86" y="342.61" width="8.22" height="6.61" fill="#4b0f10" />
<rect x="67.78" y="342.61" width="8.22" height="6.61" fill="#2d0f0e" />
<rect x="75.70" y="342.61" width="8.22" height="6.61" fill="#3c0f0f" />
<rect x="83.62" y="342.61" width="8.22" height="6.61" fill="#3c0f0f" />
<rect x="91.54" y="342.61" width="8.22" height="6.61" fill="#0a0a0a" />
<rect x="99.46" y="342.61" width="8.22" height="6.61" fill="#168a44" />
<rect x="107.38" y="342.61" width="8.22" height="6.61" fill="#081a10" />
<rect x="115.30" y="342.61" width="8.22" height="6.61" fill="#165a32" />
<rect x="123.22" y="342.61" width="8.22" height="6.61" fill="#b41d24" />
<rect x="131.14" y="342.61" width="8.22" height="6.61" fill="#a51a20" />
<rect x="139.06" y="342.61" width="8.22" height="6.61" fill="#a51a20" />
<rect x="146.98" y="342.61" width="8.22" height="6.61" fill="#871519" />
<rect x="36.10" y="348.92" width="8.22" height="6.61" fill="#1b904d" />
<rect x="44.02" y="348.92" width="8.22" height="6.61" fill="#1b904d" />
<rect x="51.94" y="348.92" width="8.22" height="6.61" fill="#1b904d" />
<rect x="59.86" y="348.92" width="8.22" height="6.61" fill="#3c0f0f" />
<rect x="67.78" y="348.92" width="8.22" height="6.61" fill="#1e0f0e" />
<rect x="75.70" y="348.92" width="8.22" height="6.61" fill="#2d0f0e" />
<rect x="83.62" y="348.92" width="8.22" height="6.61" fill="#3c0f0f" />
<rect x="91.54" y="348.92" width="8.22" height="6.61" fill="#167a44" />
<rect x="99.46" y="348.92" width="8.22" height="6.61" fill="#167a44" />
<rect x="107.38" y="348.92" width="8.22" height="6.61" fill="#167a44" />
<rect x="115.30" y="348.92" width="8.22" height="6.61" fill="#167a44" />
<rect x="123.22" y="348.92" width="8.22" height="6.61" fill="#b41d24" />
<rect x="131.14" y="348.92" width="8.22" height="6.61" fill="#b41d24" />
<rect x="139.06" y="348.92" width="8.22" height="6.61" fill="#b41d24" />
<rect x="146.98" y="348.92" width="8.22" height="6.61" fill="#961a1f" />
<rect x="36.10" y="355.23" width="8.22" height="6.61" fill="#1b904d" />
<rect x="44.02" y="355.23" width="8.22" height="6.61" fill="#1b904d" />
<rect x="51.94" y="355.23" width="8.22" height="6.61" fill="#1b904d" />
<rect x="59.86" y="355.23" width="8.22" height="6.61" fill="#3c0f0f" />
<rect x="67.78" y="355.23" width="8.22" height="6.61" fill="#270f0e" />
<rect x="75.70" y="355.23" width="8.22" height="6.61" fill="#3c0f0f" />
<rect x="83.62" y="355.23" width="8.22" height="6.61" fill="#270f0e" />
<rect x="91.54" y="355.23" width="8.22" height="6.61" fill="#167a44" />
<rect x="99.46" y="355.23" width="8.22" height="6.61" fill="#168a44" />
<rect x="107.38" y="355.23" width="8.22" height="6.61" fill="#164a29" />
<rect x="115.30" y="355.23" width="8.22" height="6.61" fill="#1b904d" />
<rect x="123.22" y="355.23" width="8.22" height="6.61" fill="#b41d24" />
<rect x="131.14" y="355.23" width="8.22" height="6.61" fill="#b41d24" />
<rect x="139.06" y="355.23" width="8.22" height="6.61" fill="#b41d24" />
<rect x="146.98" y="355.23" width="8.22" height="6.61" fill="#a51a20" />
</g>
<text transform="translate(42.36,81) rotate(-90)" font-size="6.5" fill="#111">cDKO3 MEP</text>
<text transform="translate(50.28,81) rotate(-90)" font-size="6.5" fill="#111">cDKO1 MEP</text>
<text transform="translate(58.20,81) rotate(-90)" font-size="6.5" fill="#111">cDKO4 MEP</text>
<text transform="translate(66.12,81) rotate(-90)" font-size="6.5" fill="#111">cDKO1 GMP</text>
<text transform="translate(74.04,81) rotate(-90)" font-size="6.5" fill="#111">cDKO4 GMP</text>
<text transform="translate(81.96,81) rotate(-90)" font-size="6.5" fill="#111">cDKO2 GMP</text>
<text transform="translate(89.88,81) rotate(-90)" font-size="6.5" fill="#111">cDKO3 GMP</text>
<text transform="translate(97.80,81) rotate(-90)" font-size="6.5" fill="#111">Ctrl3 MEP</text>
<text transform="translate(105.72,81) rotate(-90)" font-size="6.5" fill="#111">Ctrl1 MEP</text>
<text transform="translate(113.64,81) rotate(-90)" font-size="6.5" fill="#111">Ctrl2 MEP</text>
<text transform="translate(121.56,81) rotate(-90)" font-size="6.5" fill="#111">Ctrl4 MEP</text>
<text transform="translate(129.48,81) rotate(-90)" font-size="6.5" fill="#111">Ctrl3 GMP</text>
<text transform="translate(137.40,81) rotate(-90)" font-size="6.5" fill="#111">Ctrl1 GMP</text>
<text transform="translate(145.32,81) rotate(-90)" font-size="6.5" fill="#111">Ctrl2 GMP</text>
<text transform="translate(153.24,81) rotate(-90)" font-size="6.5" fill="#111">Ctrl4 GMP</text>
<text x="158.00" y="88.96" font-size="5.3" fill="#000" text-anchor="start" font-weight="normal" >Glipr2</text>
<text x="158.00" y="95.27" font-size="5.3" fill="#000" text-anchor="start" font-weight="normal" >Myd88</text>
<text x="158.00" y="101.58" font-size="5.3" fill="#000" text-anchor="start" font-weight="normal" >Junb</text>
<text x="158.00" y="107.89" font-size="5.3" fill="#000" text-anchor="start" font-weight="normal" >Ei24</text>
<text x="158.00" y="114.20" font-size="5.3" fill="#000" text-anchor="start" font-weight="normal" >MDM2</text>
<text x="158.00" y="120.51" font-size="5.3" fill="#000" text-anchor="start" font-weight="normal" >Cdkn1a</text>
<text x="158.00" y="126.82" font-size="5.3" fill="#000" text-anchor="start" font-weight="normal" >Serpina3g</text>
<text x="158.00" y="133.12" font-size="5.3" fill="#000" text-anchor="start" font-weight="normal" >Oas2</text>
<text x="158.00" y="139.44" font-size="5.3" fill="#000" text-anchor="start" font-weight="normal" >Ifitm3</text>
<text x="158.00" y="145.75" font-size="5.3" fill="#000" text-anchor="start" font-weight="normal" >Oas1g</text>
<text x="158.00" y="152.06" font-size="5.3" fill="#000" text-anchor="start" font-weight="normal" >Phlda3</text>
<text x="158.00" y="158.37" font-size="5.3" fill="#000" text-anchor="start" font-weight="normal" >Gadd45g</text>
<text x="158.00" y="164.68" font-size="5.3" fill="#000" text-anchor="start" font-weight="normal" >Ppa1</text>
<text x="158.00" y="170.98" font-size="5.3" fill="#000" text-anchor="start" font-weight="normal" >LOC100047619</text>
<text x="158.00" y="177.29" font-size="5.3" fill="#000" text-anchor="start" font-weight="normal" >Iigp2</text>
<text x="158.00" y="183.60" font-size="5.3" fill="#000" text-anchor="start" font-weight="normal" >Oasl2</text>
<text x="158.00" y="189.91" font-size="5.3" fill="#000" text-anchor="start" font-weight="normal" >Ccng1</text>
<text x="158.00" y="196.22" font-size="5.3" fill="#000" text-anchor="start" font-weight="normal" >Smg7</text>
<text x="158.00" y="202.53" font-size="5.3" fill="#000" text-anchor="start" font-weight="normal" >Irgm1</text>
<text x="158.00" y="208.84" font-size="5.3" fill="#000" text-anchor="start" font-weight="normal" >Igtp</text>
<text x="158.00" y="215.16" font-size="5.3" fill="#000" text-anchor="start" font-weight="normal" >Tyki</text>
<text x="158.00" y="221.47" font-size="5.3" fill="#000" text-anchor="start" font-weight="normal" >Samd9l</text>
<text x="158.00" y="227.78" font-size="5.3" fill="#000" text-anchor="start" font-weight="normal" >Eif2ak2</text>
<text x="158.00" y="234.09" font-size="5.3" fill="#000" text-anchor="start" font-weight="normal" >Dhx58</text>
<text x="158.00" y="240.40" font-size="5.3" fill="#000" text-anchor="start" font-weight="normal" >LOC100038882</text>
<text x="158.00" y="246.71" font-size="5.3" fill="#000" text-anchor="start" font-weight="normal" >Usp18</text>
<text x="158.00" y="253.02" font-size="5.3" fill="#000" text-anchor="start" font-weight="normal" >BC006779</text>
<text x="158.00" y="259.32" font-size="5.3" fill="#000" text-anchor="start" font-weight="normal" >LOC100048346</text>
<text x="158.00" y="265.63" font-size="5.3" fill="#000" text-anchor="start" font-weight="normal" >Rsad2</text>
<text x="158.00" y="271.94" font-size="5.3" fill="#000" text-anchor="start" font-weight="normal" >Ddx24</text>
<text x="158.00" y="278.25" font-size="5.3" fill="#000" text-anchor="start" font-weight="normal" >Samsn1</text>
<text x="158.00" y="284.56" font-size="5.3" fill="#000" text-anchor="start" font-weight="normal" >Lgals3bp</text>
<text x="158.00" y="290.88" font-size="5.3" fill="#000" text-anchor="start" font-weight="normal" >Oasl1</text>
<text x="158.00" y="297.18" font-size="5.3" fill="#000" text-anchor="start" font-weight="normal" >Cbfa2t3</text>
<text x="158.00" y="303.50" font-size="5.3" fill="#000" text-anchor="start" font-weight="normal" >Rdm1</text>
<text x="158.00" y="309.80" font-size="5.3" fill="#000" text-anchor="start" font-weight="normal" >Nenf</text>
<text x="158.00" y="316.12" font-size="5.3" fill="#000" text-anchor="start" font-weight="normal" >Mgst3</text>
<text x="158.00" y="322.42" font-size="5.3" fill="#000" text-anchor="start" font-weight="normal" >Prkra</text>
<text x="158.00" y="328.73" font-size="5.3" fill="#000" text-anchor="start" font-weight="normal" >Zfyve21</text>
<text x="158.00" y="335.04" font-size="5.3" fill="#000" text-anchor="start" font-weight="normal" >D10Jhu81e</text>
<text x="158.00" y="341.35" font-size="5.3" fill="#000" text-anchor="start" font-weight="normal" >Hsp90b1</text>
<text x="158.00" y="347.66" font-size="5.3" fill="#000" text-anchor="start" font-weight="normal" >Cd79b</text>
<text x="158.00" y="353.98" font-size="5.3" fill="#000" text-anchor="start" font-weight="normal" >Lyz</text>
<text x="158.00" y="360.28" font-size="5.3" fill="#000" text-anchor="start" font-weight="normal" >Cd52</text>
<polygon points="190.80,87.06 197.80,84.36 196.40,87.06 197.80,89.76" fill="#8a8cbc"/>
<polygon points="190.80,93.37 197.80,90.67 196.40,93.37 197.80,96.07" fill="#8a8cbc"/>
<polygon points="195.40,99.68 202.40,96.98 201.00,99.68 202.40,102.38" fill="#9c1433"/>
<polygon points="195.40,105.98 202.40,103.28 201.00,105.98 202.40,108.69" fill="#9c1433"/>
<polygon points="195.40,112.30 202.40,109.59 201.00,112.30 202.40,115.00" fill="#9c1433"/>
<polygon points="195.40,118.61 202.40,115.91 201.00,118.61 202.40,121.31" fill="#9c1433"/>
<polygon points="190.80,131.22 197.80,128.53 196.40,131.22 197.80,133.92" fill="#8a8cbc"/>
<polygon points="190.80,137.53 197.80,134.84 196.40,137.53 197.80,140.23" fill="#8a8cbc"/>
<polygon points="190.80,143.84 197.80,141.15 196.40,143.84 197.80,146.54" fill="#8a8cbc"/>
<polygon points="195.40,150.16 202.40,147.46 201.00,150.16 202.40,152.85" fill="#9c1433"/>
<polygon points="195.40,156.47 202.40,153.77 201.00,156.47 202.40,159.16" fill="#9c1433"/>
<polygon points="190.80,175.39 197.80,172.69 196.40,175.39 197.80,178.09" fill="#8a8cbc"/>
<polygon points="190.80,181.70 197.80,179.00 196.40,181.70 197.80,184.40" fill="#8a8cbc"/>
<polygon points="195.40,188.01 202.40,185.31 201.00,188.01 202.40,190.71" fill="#9c1433"/>
<polygon points="190.80,200.63 197.80,197.94 196.40,200.63 197.80,203.33" fill="#8a8cbc"/>
<polygon points="190.80,206.94 197.80,204.25 196.40,206.94 197.80,209.64" fill="#8a8cbc"/>
<polygon points="190.80,225.88 197.80,223.18 196.40,225.88 197.80,228.57" fill="#8a8cbc"/>
<polygon points="190.80,244.81 197.80,242.11 196.40,244.81 197.80,247.50" fill="#8a8cbc"/>
<polygon points="190.80,263.74 197.80,261.04 196.40,263.74 197.80,266.44" fill="#8a8cbc"/>
<polygon points="190.80,270.04 197.80,267.34 196.40,270.04 197.80,272.74" fill="#8a8cbc"/>
<polygon points="190.80,282.66 197.80,279.96 196.40,282.66 197.80,285.36" fill="#8a8cbc"/>
<polygon points="190.80,288.98 197.80,286.28 196.40,288.98 197.80,291.68" fill="#8a8cbc"/>
<polygon points="195.20,295.28 202.20,292.58 200.80,295.28 202.20,297.98" fill="#2e3670"/>
<text x="203.60" y="95.40" font-size="8.4" fill="#9a9cc8" text-anchor="start" font-weight="normal" >IFN</text>
<text x="208.80" y="121.60" font-size="8.5" fill="#9c1a35" text-anchor="start" font-weight="normal" >p53</text>
<text x="208.80" y="303.70" font-size="8.4" fill="#4a5a8a" text-anchor="start" font-weight="normal" >KO</text>
<line x1="47.98" y1="37.40" x2="55.90" y2="37.40" stroke="#222" stroke-width="0.8" />
<line x1="47.98" y1="37.40" x2="47.98" y2="39.30" stroke="#222" stroke-width="0.8" />
<line x1="55.90" y1="37.40" x2="55.90" y2="39.30" stroke="#222" stroke-width="0.8" />
<line x1="40.06" y1="36.40" x2="51.94" y2="36.40" stroke="#222" stroke-width="0.8" />
<line x1="40.06" y1="36.40" x2="40.06" y2="39.30" stroke="#222" stroke-width="0.8" />
<line x1="51.94" y1="36.40" x2="51.94" y2="37.40" stroke="#222" stroke-width="0.8" />
<line x1="63.82" y1="36.40" x2="71.74" y2="36.40" stroke="#222" stroke-width="0.8" />
<line x1="63.82" y1="36.40" x2="63.82" y2="39.30" stroke="#222" stroke-width="0.8" />
<line x1="71.74" y1="36.40" x2="71.74" y2="39.30" stroke="#222" stroke-width="0.8" />
<line x1="79.66" y1="36.40" x2="87.58" y2="36.40" stroke="#222" stroke-width="0.8" />
<line x1="79.66" y1="36.40" x2="79.66" y2="39.30" stroke="#222" stroke-width="0.8" />
<line x1="87.58" y1="36.40" x2="87.58" y2="39.30" stroke="#222" stroke-width="0.8" />
<line x1="67.78" y1="30.40" x2="83.62" y2="30.40" stroke="#222" stroke-width="0.8" />
<line x1="67.78" y1="30.40" x2="67.78" y2="36.40" stroke="#222" stroke-width="0.8" />
<line x1="83.62" y1="30.40" x2="83.62" y2="36.40" stroke="#222" stroke-width="0.8" />
<line x1="46.00" y1="26.20" x2="75.70" y2="26.20" stroke="#222" stroke-width="0.8" />
<line x1="46.00" y1="26.20" x2="46.00" y2="36.40" stroke="#222" stroke-width="0.8" />
<line x1="75.70" y1="26.20" x2="75.70" y2="30.20" stroke="#222" stroke-width="0.8" />
<line x1="111.34" y1="37.70" x2="119.26" y2="37.70" stroke="#222" stroke-width="0.8" />
<line x1="111.34" y1="37.70" x2="111.34" y2="39.30" stroke="#222" stroke-width="0.8" />
<line x1="119.26" y1="37.70" x2="119.26" y2="39.30" stroke="#222" stroke-width="0.8" />
<line x1="103.42" y1="37.00" x2="115.30" y2="37.00" stroke="#222" stroke-width="0.8" />
<line x1="103.42" y1="37.00" x2="103.42" y2="39.30" stroke="#222" stroke-width="0.8" />
<line x1="115.30" y1="37.00" x2="115.30" y2="37.70" stroke="#222" stroke-width="0.8" />
<line x1="95.50" y1="36.30" x2="109.36" y2="36.30" stroke="#222" stroke-width="0.8" />
<line x1="95.50" y1="36.30" x2="95.50" y2="39.30" stroke="#222" stroke-width="0.8" />
<line x1="109.36" y1="36.30" x2="109.36" y2="37.00" stroke="#222" stroke-width="0.8" />
<line x1="143.02" y1="37.70" x2="150.94" y2="37.70" stroke="#222" stroke-width="0.8" />
<line x1="143.02" y1="37.70" x2="143.02" y2="39.30" stroke="#222" stroke-width="0.8" />
<line x1="150.94" y1="37.70" x2="150.94" y2="39.30" stroke="#222" stroke-width="0.8" />
<line x1="135.10" y1="37.00" x2="146.98" y2="37.00" stroke="#222" stroke-width="0.8" />
<line x1="135.10" y1="37.00" x2="135.10" y2="39.30" stroke="#222" stroke-width="0.8" />
<line x1="146.98" y1="37.00" x2="146.98" y2="37.70" stroke="#222" stroke-width="0.8" />
<line x1="127.18" y1="36.30" x2="141.04" y2="36.30" stroke="#222" stroke-width="0.8" />
<line x1="127.18" y1="36.30" x2="127.18" y2="39.30" stroke="#222" stroke-width="0.8" />
<line x1="141.04" y1="36.30" x2="141.04" y2="37.00" stroke="#222" stroke-width="0.8" />
<line x1="102.43" y1="25.00" x2="134.11" y2="25.00" stroke="#222" stroke-width="0.8" />
<line x1="102.43" y1="25.00" x2="102.43" y2="36.30" stroke="#222" stroke-width="0.8" />
<line x1="134.11" y1="25.00" x2="134.11" y2="36.30" stroke="#222" stroke-width="0.8" />
<line x1="60.85" y1="13.80" x2="118.27" y2="13.80" stroke="#222" stroke-width="0.8" />
<line x1="60.85" y1="13.80" x2="60.85" y2="26.00" stroke="#222" stroke-width="0.8" />
<line x1="118.27" y1="13.80" x2="118.27" y2="25.00" stroke="#222" stroke-width="0.8" />
<line x1="13.30" y1="130.00" x2="13.30" y2="326.50" stroke="#222" stroke-width="0.8" />
<line x1="13.30" y1="130.00" x2="28.40" y2="130.00" stroke="#222" stroke-width="0.8" />
<line x1="28.40" y1="97.00" x2="28.40" y2="162.00" stroke="#222" stroke-width="0.8" />
<line x1="28.40" y1="97.00" x2="30.60" y2="97.00" stroke="#222" stroke-width="0.8" />
<line x1="30.60" y1="87.00" x2="30.60" y2="112.00" stroke="#222" stroke-width="0.8" />
<line x1="30.60" y1="87.06" x2="34.60" y2="87.06" stroke="#222" stroke-width="0.8" />
<line x1="30.60" y1="93.37" x2="34.60" y2="93.37" stroke="#222" stroke-width="0.8" />
<line x1="30.60" y1="99.68" x2="34.60" y2="99.68" stroke="#222" stroke-width="0.8" />
<line x1="30.60" y1="105.98" x2="34.60" y2="105.98" stroke="#222" stroke-width="0.8" />
<line x1="28.40" y1="118.00" x2="31.60" y2="118.00" stroke="#222" stroke-width="0.8" />
<line x1="31.60" y1="110.00" x2="31.60" y2="128.00" stroke="#222" stroke-width="0.8" />
<line x1="31.60" y1="112.30" x2="34.60" y2="112.30" stroke="#222" stroke-width="0.8" />
<line x1="31.60" y1="118.61" x2="34.60" y2="118.61" stroke="#222" stroke-width="0.8" />
<line x1="31.60" y1="124.92" x2="34.60" y2="124.92" stroke="#222" stroke-width="0.8" />
<line x1="28.40" y1="140.00" x2="30.20" y2="140.00" stroke="#222" stroke-width="0.8" />
<line x1="30.20" y1="133.00" x2="30.20" y2="150.00" stroke="#222" stroke-width="0.8" />
<line x1="30.20" y1="131.22" x2="34.60" y2="131.22" stroke="#222" stroke-width="0.8" />
<line x1="30.20" y1="137.53" x2="34.60" y2="137.53" stroke="#222" stroke-width="0.8" />
<line x1="30.20" y1="143.84" x2="34.60" y2="143.84" stroke="#222" stroke-width="0.8" />
<line x1="30.20" y1="150.16" x2="34.60" y2="150.16" stroke="#222" stroke-width="0.8" />
<line x1="28.40" y1="162.00" x2="31.30" y2="162.00" stroke="#222" stroke-width="0.8" />
<line x1="31.3" y1="152" x2="31.3" y2="290" stroke="#111" stroke-width="1.1"/>
<line x1="31.30" y1="156.47" x2="34.60" y2="156.47" stroke="#222" stroke-width="0.8" />
<line x1="31.30" y1="162.78" x2="34.60" y2="162.78" stroke="#222" stroke-width="0.8" />
<line x1="31.30" y1="169.08" x2="34.60" y2="169.08" stroke="#222" stroke-width="0.8" />
<line x1="31.30" y1="175.39" x2="34.60" y2="175.39" stroke="#222" stroke-width="0.8" />
<line x1="31.30" y1="181.70" x2="34.60" y2="181.70" stroke="#222" stroke-width="0.8" />
<line x1="31.30" y1="188.01" x2="34.60" y2="188.01" stroke="#222" stroke-width="0.8" />
<line x1="31.30" y1="194.32" x2="34.60" y2="194.32" stroke="#222" stroke-width="0.8" />
<line x1="31.30" y1="200.63" x2="34.60" y2="200.63" stroke="#222" stroke-width="0.8" />
<line x1="31.30" y1="206.94" x2="34.60" y2="206.94" stroke="#222" stroke-width="0.8" />
<line x1="31.30" y1="213.25" x2="34.60" y2="213.25" stroke="#222" stroke-width="0.8" />
<line x1="31.30" y1="219.56" x2="34.60" y2="219.56" stroke="#222" stroke-width="0.8" />
<line x1="31.30" y1="225.88" x2="34.60" y2="225.88" stroke="#222" stroke-width="0.8" />
<line x1="31.30" y1="232.19" x2="34.60" y2="232.19" stroke="#222" stroke-width="0.8" />
<line x1="31.30" y1="238.50" x2="34.60" y2="238.50" stroke="#222" stroke-width="0.8" />
<line x1="31.30" y1="244.81" x2="34.60" y2="244.81" stroke="#222" stroke-width="0.8" />
<line x1="31.30" y1="251.12" x2="34.60" y2="251.12" stroke="#222" stroke-width="0.8" />
<line x1="31.30" y1="257.42" x2="34.60" y2="257.42" stroke="#222" stroke-width="0.8" />
<line x1="31.30" y1="263.74" x2="34.60" y2="263.74" stroke="#222" stroke-width="0.8" />
<line x1="31.30" y1="270.04" x2="34.60" y2="270.04" stroke="#222" stroke-width="0.8" />
<line x1="31.30" y1="276.36" x2="34.60" y2="276.36" stroke="#222" stroke-width="0.8" />
<line x1="31.30" y1="282.66" x2="34.60" y2="282.66" stroke="#222" stroke-width="0.8" />
<line x1="31.30" y1="288.98" x2="34.60" y2="288.98" stroke="#222" stroke-width="0.8" />
<line x1="13.30" y1="326.50" x2="18.20" y2="326.50" stroke="#222" stroke-width="0.8" />
<line x1="18.20" y1="307.50" x2="18.20" y2="345.10" stroke="#222" stroke-width="0.8" />
<line x1="18.20" y1="307.50" x2="29.60" y2="307.50" stroke="#222" stroke-width="0.8" />
<line x1="18.20" y1="345.10" x2="28.00" y2="345.10" stroke="#222" stroke-width="0.8" />
<line x1="29.60" y1="295.50" x2="29.60" y2="318.40" stroke="#222" stroke-width="0.8" />
<line x1="29.60" y1="295.28" x2="33.50" y2="295.28" stroke="#222" stroke-width="0.8" />
<line x1="29.60" y1="301.60" x2="33.50" y2="301.60" stroke="#222" stroke-width="0.8" />
<line x1="29.60" y1="307.90" x2="33.50" y2="307.90" stroke="#222" stroke-width="0.8" />
<line x1="29.60" y1="314.22" x2="33.50" y2="314.22" stroke="#222" stroke-width="0.8" />
<line x1="31.00" y1="320.50" x2="31.00" y2="333.60" stroke="#222" stroke-width="0.8" />
<line x1="29.60" y1="318.40" x2="31.00" y2="318.40" stroke="#222" stroke-width="0.8" />
<line x1="31.00" y1="320.52" x2="34.00" y2="320.52" stroke="#222" stroke-width="0.8" />
<line x1="31.00" y1="326.83" x2="34.00" y2="326.83" stroke="#222" stroke-width="0.8" />
<line x1="31.00" y1="333.14" x2="34.00" y2="333.14" stroke="#222" stroke-width="0.8" />
<line x1="28.00" y1="339.60" x2="28.00" y2="351.00" stroke="#222" stroke-width="0.8" />
<line x1="28.00" y1="339.60" x2="32.00" y2="339.60" stroke="#222" stroke-width="0.8" />
<line x1="28.00" y1="351.00" x2="31.50" y2="351.00" stroke="#222" stroke-width="0.8" />
<line x1="31.50" y1="345.00" x2="31.50" y2="360.00" stroke="#222" stroke-width="0.8" />
<line x1="31.50" y1="339.45" x2="34.00" y2="339.45" stroke="#222" stroke-width="0.8" />
<line x1="31.50" y1="345.76" x2="34.00" y2="345.76" stroke="#222" stroke-width="0.8" />
<line x1="31.50" y1="352.08" x2="34.00" y2="352.08" stroke="#222" stroke-width="0.8" />
<line x1="31.50" y1="358.38" x2="34.00" y2="358.38" stroke="#222" stroke-width="0.8" />
<rect x="36.00" y="373.00" width="19.80" height="8.60" fill="#62be48" />
<rect x="55.50" y="373.00" width="20.10" height="8.60" fill="#1e9e52" />
<rect x="75.30" y="373.00" width="20.00" height="8.60" fill="#163a1e" />
<rect x="95.00" y="373.00" width="20.20" height="8.60" fill="#3a1212" />
<rect x="114.90" y="373.00" width="19.90" height="8.60" fill="#a01a24" />
<rect x="134.50" y="373.00" width="19.80" height="8.60" fill="#ea2228" />
<rect x="75.00" y="373.00" width="0.80" height="8.60" fill="#fff" />
<rect x="114.60" y="373.00" width="0.80" height="8.60" fill="#fff" />
<text x="41.60" y="391.80" font-size="6.6" fill="#222" text-anchor="middle" font-weight="normal" >-2.0</text>
<text x="63.80" y="391.80" font-size="6.6" fill="#222" text-anchor="middle" font-weight="normal" >-1.2</text>
<text x="84.00" y="391.80" font-size="6.6" fill="#222" text-anchor="middle" font-weight="normal" >-0.4</text>
<text x="104.00" y="391.80" font-size="6.6" fill="#222" text-anchor="middle" font-weight="normal" >0.4</text>
<text x="124.00" y="391.80" font-size="6.6" fill="#222" text-anchor="middle" font-weight="normal" >1.2</text>
<text x="144.50" y="391.80" font-size="6.6" fill="#222" text-anchor="middle" font-weight="normal" >2.0</text>
<text x="245.40" y="17.00" font-size="10.5" fill="#000" text-anchor="start" font-weight="bold" >B</text>
<defs><marker id="ah" viewBox="0 0 6 6" refX="5.5" refY="3" markerWidth="4" markerHeight="4" orient="auto"><path d="M0,0 L6,3 L0,6 z" fill="#777"/></marker></defs>
<g stroke="#7c7c7c" stroke-width="0.6" fill="none">
<line x1="401.5" y1="103.5" x2="399.3" y2="80.6" marker-end="url(#ah)"/>
<line x1="401.5" y1="103.5" x2="416.2" y2="66.1" marker-end="url(#ah)"/>
<line x1="401.5" y1="103.5" x2="432.3" y2="75.1" marker-end="url(#ah)"/>
<line x1="401.5" y1="103.5" x2="424.7" y2="93.0" marker-end="url(#ah)"/>
<line x1="401.5" y1="103.5" x2="442.0" y2="101.8" marker-end="url(#ah)"/>
<line x1="401.5" y1="103.5" x2="427.5" y2="115.5" marker-end="url(#ah)"/>
<line x1="401.5" y1="103.5" x2="431.9" y2="139.7" marker-end="url(#ah)"/>
<line x1="401.5" y1="103.5" x2="410.7" y2="126.6" marker-end="url(#ah)"/>
<line x1="401.5" y1="103.5" x2="406.9" y2="149.6" marker-end="url(#ah)"/>
<line x1="401.5" y1="103.5" x2="388.3" y2="140.4" marker-end="url(#ah)"/>
<line x1="401.5" y1="103.5" x2="382.3" y2="121.9" marker-end="url(#ah)"/>
<line x1="401.5" y1="103.5" x2="363.4" y2="150.3" marker-end="url(#ah)"/>
<line x1="401.5" y1="103.5" x2="381.0" y2="103.9" marker-end="url(#ah)"/>
<line x1="401.5" y1="103.5" x2="381.7" y2="86.3" marker-end="url(#ah)"/>
<line x1="401.5" y1="103.5" x2="328.9" y2="94.4" marker-end="url(#ah)"/>
<line x1="401.5" y1="103.5" x2="356.6" y2="113.6" marker-end="url(#ah)"/>
<line x1="401.5" y1="103.5" x2="322.9" y2="116.8" marker-end="url(#ah)"/>
<line x1="401.5" y1="103.5" x2="334.5" y2="146.4" marker-end="url(#ah)"/>
<line x1="401.5" y1="103.5" x2="383.1" y2="54.6" marker-end="url(#ah)"/>
<line x1="401.5" y1="103.5" x2="307.3" y2="146.7" marker-end="url(#ah)"/>
<line x1="401.5" y1="103.5" x2="375.1" y2="175.1" marker-end="url(#ah)"/>
<line x1="318.0" y1="93.0" x2="310.9" y2="74.8" marker-end="url(#ah)"/>
<line x1="318.0" y1="93.0" x2="340.7" y2="78.2" marker-end="url(#ah)"/>
<line x1="318.0" y1="93.0" x2="296.1" y2="81.1" marker-end="url(#ah)"/>
<line x1="318.0" y1="93.0" x2="291.4" y2="117.9" marker-end="url(#ah)"/>
<line x1="318.0" y1="93.0" x2="316.6" y2="111.0" marker-end="url(#ah)"/>
<line x1="318.0" y1="93.0" x2="341.0" y2="110.2" marker-end="url(#ah)"/>
<line x1="318.0" y1="93.0" x2="363.0" y2="81.8" marker-end="url(#ah)"/>
<line x1="318.0" y1="93.0" x2="369.1" y2="102.9" marker-end="url(#ah)"/>
<line x1="318.0" y1="93.0" x2="325.1" y2="142.1" marker-end="url(#ah)"/>
<line x1="318.0" y1="93.0" x2="302.4" y2="142.4" marker-end="url(#ah)"/>
<line x1="318.0" y1="93.0" x2="367.4" y2="123.5" marker-end="url(#ah)"/>
<line x1="348.8" y1="73.0" x2="350.5" y2="42.5" marker-end="url(#ah)"/>
<line x1="348.8" y1="73.0" x2="357.9" y2="57.1" marker-end="url(#ah)"/>
<line x1="348.8" y1="73.0" x2="348.2" y2="106.7" marker-end="url(#ah)"/>
<line x1="348.8" y1="73.0" x2="363.0" y2="76.6" marker-end="url(#ah)"/>
<line x1="348.8" y1="73.0" x2="316.4" y2="68.0" marker-end="url(#ah)"/>
<line x1="322.0" y1="45.0" x2="342.2" y2="66.1" marker-end="url(#ah)"/>
<line x1="351.0" y1="34.0" x2="314.7" y2="61.3" marker-end="url(#ah)"/>
<line x1="326.5" y1="151.5" x2="308.0" y2="150.5" marker-end="url(#ah)"/>
<line x1="326.5" y1="151.5" x2="297.2" y2="174.7" marker-end="url(#ah)"/>
<line x1="326.5" y1="151.5" x2="319.5" y2="171.7" marker-end="url(#ah)"/>
<line x1="326.5" y1="151.5" x2="364.6" y2="178.3" marker-end="url(#ah)"/>
<line x1="326.5" y1="151.5" x2="318.1" y2="124.7" marker-end="url(#ah)"/>
<line x1="326.5" y1="151.5" x2="343.5" y2="123.1" marker-end="url(#ah)"/>
<line x1="372.0" y1="183.5" x2="307.3" y2="153.4" marker-end="url(#ah)"/>
<line x1="372.0" y1="183.5" x2="403.8" y2="193.8" marker-end="url(#ah)"/>
<line x1="372.0" y1="183.5" x2="387.7" y2="183.0" marker-end="url(#ah)"/>
<line x1="367.0" y1="202.3" x2="403.3" y2="198.9" marker-end="url(#ah)"/>
<line x1="343.0" y1="180.0" x2="387.7" y2="182.3" marker-end="url(#ah)"/>
<line x1="415.7" y1="197.7" x2="409.9" y2="168.3" marker-end="url(#ah)"/>
<line x1="415.7" y1="197.7" x2="307.4" y2="153.0" marker-end="url(#ah)"/>
<line x1="438.0" y1="147.0" x2="379.9" y2="179.1" marker-end="url(#ah)"/>
<line x1="373.5" y1="79.2" x2="353.1" y2="108.3" marker-end="url(#ah)"/>
<line x1="283.5" y1="99.5" x2="309.9" y2="114.5" marker-end="url(#ah)"/>
<line x1="290.9" y1="179.7" x2="297.7" y2="157.6" marker-end="url(#ah)"/>
<line x1="362.0" y1="50.0" x2="391.5" y2="68.1" marker-end="url(#ah)"/>
<line x1="351.0" y1="34.0" x2="375.6" y2="46.3" marker-end="url(#ah)"/>
<line x1="287.0" y1="122.0" x2="339.2" y2="116.4" marker-end="url(#ah)"/>
<line x1="419.8" y1="56.8" x2="405.1" y2="67.6" marker-end="url(#ah)"/>
<line x1="316.0" y1="118.0" x2="309.1" y2="75.3" marker-end="url(#ah)"/>
<line x1="386.0" y1="147.0" x2="375.2" y2="175.1" marker-end="url(#ah)"/>
<line x1="357.5" y1="157.5" x2="365.0" y2="193.0" marker-end="url(#ah)"/>
<line x1="287.0" y1="122.0" x2="364.7" y2="178.2" marker-end="url(#ah)"/>
<line x1="273.0" y1="137.0" x2="292.8" y2="146.5" marker-end="url(#ah)"/>
<line x1="401.5" y1="103.5" x2="410.7" y2="126.6" marker-end="url(#ah)"/>
</g>
<path d="M344.6,29.5 C338.2,15.5 363.8,15.5 357.4,29.5" stroke="#8a8a8a" stroke-width="0.7" fill="none"/>
<path d="M315.9,40.7 C309.8,26.8 334.2,26.8 328.1,40.7" stroke="#8a8a8a" stroke-width="0.7" fill="none"/>
<path d="M412.2,51.4 C404.5,36.6 435.1,36.6 427.4,51.4" stroke="#8a8a8a" stroke-width="0.7" fill="none"/>
<path d="M341.5,67.8 C334.2,53.3 363.4,53.3 356.1,67.8" stroke="#8a8a8a" stroke-width="0.7" fill="none"/>
<path d="M309.5,87.0 C301.0,71.7 335.0,71.7 326.5,87.0" stroke="#8a8a8a" stroke-width="0.7" fill="none"/>
<path d="M341.4,110.8 C334.7,96.7 361.3,96.7 354.6,110.8" stroke="#8a8a8a" stroke-width="0.7" fill="none"/>
<path d="M319.3,146.4 C312.1,131.9 340.9,131.9 333.7,146.4" stroke="#8a8a8a" stroke-width="0.7" fill="none"/>
<path d="M310.9,114.4 C305.8,101.2 326.2,101.2 321.1,114.4" stroke="#8a8a8a" stroke-width="0.7" fill="none"/>
<path d="M365.2,178.7 C358.4,164.4 385.6,164.4 378.8,178.7" stroke="#8a8a8a" stroke-width="0.7" fill="none"/>
<path d="M350.4,152.5 C343.4,138.1 371.6,138.1 364.6,152.5" stroke="#8a8a8a" stroke-width="0.7" fill="none"/>
<path d="M337.9,176.4 C332.8,163.2 353.2,163.2 348.1,176.4" stroke="#8a8a8a" stroke-width="0.7" fill="none"/>
<path d="M380.9,143.4 C375.8,130.2 396.2,130.2 391.1,143.4" stroke="#8a8a8a" stroke-width="0.7" fill="none"/>
<path d="M282.8,119.0 C278.5,106.3 295.5,106.3 291.2,119.0" stroke="#8a8a8a" stroke-width="0.7" fill="none"/>
<path d="M428.8,115.0 C424.5,102.3 441.5,102.3 437.2,115.0" stroke="#8a8a8a" stroke-width="0.7" fill="none"/>
<path d="M294.1,145.8 C288.1,132.1 311.9,132.1 305.9,145.8" stroke="#8a8a8a" stroke-width="0.7" fill="none"/>
<path d="M300,59 C300,48 314,47 316,58" stroke="#8a8a8a" stroke-width="0.7" fill="none" stroke-dasharray="1.6,1.2"/>
<circle cx="351" cy="34" r="7.5" fill="#e4bfb6" stroke="#a88a84" stroke-width="0.7"/>
<circle cx="322" cy="45" r="7.2" fill="#e4bfb6" stroke="#a88a84" stroke-width="0.7"/>
<circle cx="362" cy="50" r="7.2" fill="#e4bfb6" stroke="#a88a84" stroke-width="0.7"/>
<path d="M418.0,50.5 C406.3,45.1 406.3,68.5 418.0,63.1 C419.8,61.3 419.8,61.3 421.6,63.1 C433.3,68.5 433.3,45.1 421.6,50.5 C419.8,52.3 419.8,52.3 418.0,50.5Z" fill="#e4bfb6" stroke="#a88a84" stroke-width="0.7"/>
<ellipse cx="307.7" cy="66.6" rx="7.8" ry="6.4" fill="#ffffff" stroke="#6a6a6a" stroke-width="0.7"/>
<path d="M347.1,67.0 C335.9,61.8 335.9,84.2 347.1,79.0 C348.8,77.3 348.8,77.3 350.5,79.0 C361.7,84.2 361.7,61.8 350.5,67.0 C348.8,68.7 348.8,68.7 347.1,67.0Z" fill="#e4bfb6" stroke="#a88a84" stroke-width="0.7"/>
<circle cx="398.5" cy="72.4" r="7.2" fill="#e4bfb6" stroke="#a88a84" stroke-width="0.7"/>
<circle cx="438" cy="69.8" r="6.8" fill="#64a843" stroke="#4a7f30" stroke-width="0.7"/>
<path d="M288.2,68.4 C297.3,68.4 295.4,76.2 290.1,78.2 C288.2,81.4 292.1,84.0 296.0,84.7 C290.8,88.5 283.6,85.3 284.9,78.8 C281.1,75.5 281.7,68.4 288.2,68.4Z" fill="#e4bfb6" stroke="#a88a84" stroke-width="0.7"/>
<ellipse cx="373.5" cy="79.2" rx="9.8" ry="8.0" fill="#ffffff" stroke="#6a6a6a" stroke-width="0.7"/>
<circle cx="432" cy="89.7" r="7" fill="#c4564e" stroke="#7a1020" stroke-width="0.7"/>
<path d="M316.0,86.0 C303.0,80.0 303.0,106.0 316.0,100.0 C318.0,98.0 318.0,98.0 320.0,100.0 C333.0,106.0 333.0,80.0 320.0,86.0 C318.0,88.0 318.0,88.0 316.0,86.0Z" fill="#ffffff" stroke="#6a6a6a" stroke-width="0.7"/>
<circle cx="283.5" cy="99.5" r="7" fill="#e4bfb6" stroke="#a88a84" stroke-width="0.7"/>
<path d="M448.6,91.7 C458.4,91.7 456.3,100.1 450.7,102.2 C448.6,105.7 452.8,108.5 457.0,109.2 C451.4,113.4 443.7,109.9 445.1,102.9 C440.9,99.4 441.6,91.7 448.6,91.7Z" fill="#64a843" stroke="#4a7f30" stroke-width="0.7"/>
<path d="M370.0,101.5 C369.0,110.5 379.0,112.0 380.0,107.0" fill="none" stroke="#7a7a7a" stroke-width="0.8"/>
<circle cx="401.5" cy="103.5" r="11.2" fill="#ffffff" stroke="#6a6a6a" stroke-width="0.7"/>
<path d="M282.0,119.5 C281.0,128.5 291.0,130.0 292.0,125.0" fill="none" stroke="#7a7a7a" stroke-width="0.8"/>
<path d="M310.0,115.0 C308.8,125.8 320.8,127.6 322.0,121.6" fill="none" stroke="#7a7a7a" stroke-width="0.8"/>
<circle cx="348" cy="115.5" r="7.8" fill="#ffffff" stroke="#6a6a6a" stroke-width="0.7"/>
<path d="M428.0,115.5 C427.0,124.5 437.0,126.0 438.0,121.0" fill="none" stroke="#7a7a7a" stroke-width="0.8"/>
<path d="M454.7,118.9 C463.8,118.9 461.9,126.7 456.6,128.7 C454.7,131.9 458.6,134.5 462.5,135.2 C457.3,139.1 450.1,135.8 451.4,129.3 C447.6,126.0 448.2,118.9 454.7,118.9Z" fill="#e4bfb6" stroke="#a88a84" stroke-width="0.7"/>
<circle cx="375.5" cy="128.5" r="8.5" fill="#ffffff" stroke="#6a6a6a" stroke-width="0.7"/>
<circle cx="414" cy="135" r="8" fill="#e4bfb6" stroke="#a88a84" stroke-width="0.7"/>
<path d="M271.6,127.2 C281.4,127.2 279.3,135.6 273.7,137.7 C271.6,141.2 275.8,144.0 280.0,144.7 C274.4,148.9 266.7,145.4 268.1,138.4 C263.9,134.9 264.6,127.2 271.6,127.2Z" fill="#e4bfb6" stroke="#a88a84" stroke-width="0.7"/>
<circle cx="438" cy="147" r="8.5" fill="#ffffff" stroke="#6a6a6a" stroke-width="0.7"/>
<path d="M298.6,140.2 C308.4,140.2 306.3,148.6 300.7,150.7 C298.6,154.2 302.8,157.0 307.0,157.7 C301.4,161.9 293.7,158.4 295.1,151.4 C290.9,147.9 291.6,140.2 298.6,140.2Z" fill="#ffffff" stroke="#6a6a6a" stroke-width="0.7"/>
<circle cx="326.5" cy="151.5" r="8.5" fill="#ffffff" stroke="#6a6a6a" stroke-width="0.7"/>
<path d="M380.0,144.0 C378.8,154.8 390.8,156.6 392.0,150.6" fill="none" stroke="#7a7a7a" stroke-width="0.8"/>
<circle cx="357.5" cy="157.5" r="8.3" fill="#ffffff" stroke="#6a6a6a" stroke-width="0.7"/>
<circle cx="408" cy="159" r="8.5" fill="#ffffff" stroke="#6a6a6a" stroke-width="0.7"/>
<path d="M282.9,171.7 Q283.9,169.2 285.9,170.2 L290.9,177.2 L295.9,170.2 Q297.9,169.2 298.9,171.7 L293.7,180.2 L293.7,188.7 Q290.9,190.7 288.1,188.7 L288.1,180.2 Z" fill="#e4bfb6" stroke="#a88a84" stroke-width="0.7" stroke-linejoin="round"/>
<ellipse cx="316" cy="181.6" rx="9.5" ry="7.8" fill="#64a843" stroke="#4a7f30" stroke-width="0.7"/>
<path d="M341.8,171.6 C350.2,171.6 348.4,178.8 343.6,180.6 C341.8,183.6 345.4,186.0 349.0,186.6 C344.2,190.2 337.6,187.2 338.8,181.2 C335.2,178.2 335.8,171.6 341.8,171.6Z" fill="#e4bfb6" stroke="#a88a84" stroke-width="0.7"/>
<circle cx="372" cy="183.5" r="8" fill="#ffffff" stroke="#6a6a6a" stroke-width="0.7"/>
<circle cx="396.5" cy="182.7" r="7.8" fill="#64a843" stroke="#4a7f30" stroke-width="0.7"/>
<path d="M333.3,190.4 C342.4,190.4 340.5,198.2 335.2,200.2 C333.3,203.4 337.2,206.0 341.1,206.7 C335.9,210.6 328.8,207.3 330.1,200.8 C326.2,197.6 326.8,190.4 333.3,190.4Z" fill="#e4bfb6" stroke="#a88a84" stroke-width="0.7"/>
<ellipse cx="367" cy="202.3" rx="8.5" ry="7.0" fill="#a8112c" stroke="#7a1020" stroke-width="0.7"/>
<path d="M404.2,197.7 C411.1,190.8 422.6,190.8 426.6,194.8 C427.8,197.7 426.6,201.1 422.6,202.9 C418.0,204.6 411.1,202.3 404.2,197.7Z" fill="#a83232" stroke="#7a1a1a" stroke-width="0.7"/>
<ellipse cx="417.2" cy="197.7" rx="7.1" ry="4.1" fill="#f2e2e2"/>
<circle cx="297" cy="138" r="11.5" fill="none" stroke="#8a8a8a" stroke-width="0.7"/>
<line x1="296" y1="161" x2="292.5" y2="169" stroke="#8a8a8a" stroke-width="0.7" stroke-dasharray="1.5,1.2"/>
<path d="M330,85 L337,78" stroke="#8a8a8a" stroke-width="0.7" stroke-dasharray="1.5,1.2"/>
<path d="M332,88 L339,81" stroke="#8a8a8a" stroke-width="0.7" stroke-dasharray="1.5,1.2"/>
<path d="M377,41 C373,29 391,29 388,41" stroke="#8a8a8a" stroke-width="0.7" fill="none"/>
<path d="M378,46 C375,53 384,55 387,50" stroke="#8a8a8a" stroke-width="0.7" fill="none"/>
<circle cx="347.5" cy="129.6" r="2" fill="#e8b8a8"/>
<text x="351.00" y="36.30" font-size="6.4" fill="#000" text-anchor="middle" font-weight="bold" stroke="#fff" stroke-width="0.0">PHLDA3</text>
<text x="322.00" y="47.30" font-size="6.4" fill="#000" text-anchor="middle" font-weight="bold" stroke="#fff" stroke-width="0.0">MYD88</text>
<text x="362.00" y="52.30" font-size="6.4" fill="#000" text-anchor="middle" font-weight="bold" stroke="#fff" stroke-width="0.0">CCNG1</text>
<text x="384.00" y="45.30" font-size="6.4" fill="#000" text-anchor="middle" font-weight="bold" stroke="#fff" stroke-width="0.0">TFB2M</text>
<text x="419.00" y="59.30" font-size="6.4" fill="#000" text-anchor="middle" font-weight="bold" stroke="#fff" stroke-width="0.0">JUNB</text>
<text x="308.00" y="69.30" font-size="6.4" fill="#000" text-anchor="middle" font-weight="bold" stroke="#fff" stroke-width="0.0">CUL4A</text>
<text x="348.80" y="75.30" font-size="6.4" fill="#000" text-anchor="middle" font-weight="bold" stroke="#fff" stroke-width="0.0">MDM2</text>
<text x="398.50" y="74.70" font-size="6.4" fill="#000" text-anchor="middle" font-weight="bold" stroke="#fff" stroke-width="0.0">HSP90B1</text>
<text x="438.00" y="72.30" font-size="6.4" fill="#000" text-anchor="middle" font-weight="bold" stroke="#fff" stroke-width="0.0">C21orf33</text>
<text x="296.00" y="80.80" font-size="6.4" fill="#000" text-anchor="middle" font-weight="bold" stroke="#fff" stroke-width="0.0">PPA1</text>
<text x="373.50" y="81.50" font-size="6.4" fill="#000" text-anchor="middle" font-weight="bold" stroke="#fff" stroke-width="0.0">MKRN1</text>
<text x="432.50" y="92.30" font-size="6.4" fill="#000" text-anchor="middle" font-weight="bold" stroke="#fff" stroke-width="0.0">IFITM2</text>
<text x="318.00" y="95.30" font-size="6.4" fill="#000" text-anchor="middle" font-weight="bold" stroke="#fff" stroke-width="0.0">TP53</text>
<text x="283.50" y="101.80" font-size="6.4" fill="#000" text-anchor="middle" font-weight="bold" stroke="#fff" stroke-width="0.0">EI24</text>
<text x="452.00" y="103.30" font-size="6.4" fill="#000" text-anchor="middle" font-weight="bold" stroke="#fff" stroke-width="0.0">MGST3</text>
<text x="375.00" y="103.30" font-size="6.4" fill="#000" text-anchor="middle" font-weight="bold" stroke="#fff" stroke-width="0.0">NUAK1</text>
<text x="401.50" y="105.80" font-size="6.4" fill="#000" text-anchor="middle" font-weight="bold" stroke="#fff" stroke-width="0.0">HNF4A</text>
<text x="287.00" y="120.30" font-size="6.4" fill="#000" text-anchor="middle" font-weight="bold" stroke="#fff" stroke-width="0.0">PIN1</text>
<text x="320.00" y="124.30" font-size="6.4" fill="#000" text-anchor="middle" font-weight="bold" stroke="#fff" stroke-width="0.0">UBE2D1</text>
<text x="348.80" y="125.50" font-size="6.4" fill="#000" text-anchor="middle" font-weight="bold" stroke="#fff" stroke-width="0.0">CDKN1A</text>
<text x="436.00" y="123.50" font-size="6.4" fill="#000" text-anchor="middle" font-weight="bold" stroke="#fff" stroke-width="0.0">WBSCR22</text>
<text x="460.00" y="131.60" font-size="6.4" fill="#000" text-anchor="middle" font-weight="bold" stroke="#fff" stroke-width="0.0">OAS1</text>
<text x="376.00" y="130.80" font-size="6.4" fill="#000" text-anchor="middle" font-weight="bold" stroke="#fff" stroke-width="0.0">RPL18</text>
<text x="414.00" y="137.30" font-size="6.4" fill="#000" text-anchor="middle" font-weight="bold" stroke="#fff" stroke-width="0.0">GADD45G</text>
<text x="273.50" y="137.50" font-size="6.4" fill="#000" text-anchor="middle" font-weight="bold" stroke="#fff" stroke-width="0.0">DDX24</text>
<text x="438.00" y="149.30" font-size="6.4" fill="#000" text-anchor="middle" font-weight="bold" stroke="#fff" stroke-width="0.0">RABEPK</text>
<text x="289.50" y="153.80" font-size="6.4" fill="#000" text-anchor="middle" font-weight="bold" stroke="#fff" stroke-width="0.0">HSP90AB1</text>
<text x="326.50" y="153.80" font-size="6.4" fill="#000" text-anchor="middle" font-weight="bold" stroke="#fff" stroke-width="0.0">RELA</text>
<text x="389.50" y="155.30" font-size="6.4" fill="#000" text-anchor="middle" font-weight="bold" stroke="#fff" stroke-width="0.0">MOV10</text>
<text x="357.70" y="159.80" font-size="6.4" fill="#000" text-anchor="middle" font-weight="bold" stroke="#fff" stroke-width="0.0">ELF3</text>
<text x="408.00" y="161.50" font-size="6.4" fill="#000" text-anchor="middle" font-weight="bold" stroke="#fff" stroke-width="0.0">MYL6</text>
<text x="285.60" y="182.30" font-size="6.4" fill="#000" text-anchor="middle" font-weight="bold" stroke="#fff" stroke-width="0.0">LGALS3BP</text>
<text x="316.40" y="183.90" font-size="6.4" fill="#000" text-anchor="middle" font-weight="bold" stroke="#fff" stroke-width="0.0">NABP2</text>
<text x="343.50" y="186.00" font-size="6.4" fill="#000" text-anchor="middle" font-weight="bold" stroke="#fff" stroke-width="0.0">EIF2AK2</text>
<text x="371.70" y="186.00" font-size="6.4" fill="#000" text-anchor="middle" font-weight="bold" stroke="#fff" stroke-width="0.0">IKBKG</text>
<text x="397.00" y="185.00" font-size="6.4" fill="#000" text-anchor="middle" font-weight="bold" stroke="#fff" stroke-width="0.0">PRKRA</text>
<text x="338.00" y="203.30" font-size="6.4" fill="#000" text-anchor="middle" font-weight="bold" stroke="#fff" stroke-width="0.0">DHX58</text>
<text x="369.00" y="204.60" font-size="6.4" fill="#000" text-anchor="middle" font-weight="bold" stroke="#fff" stroke-width="0.0">ISG15</text>
<text x="417.00" y="200.30" font-size="6.4" fill="#000" text-anchor="middle" font-weight="bold" stroke="#fff" stroke-width="0.0">USP18</text>
<text x="244.80" y="260.60" font-size="10.5" fill="#000" text-anchor="start" font-weight="bold" >C</text>
<rect x="244.80" y="267.10" width="200.60" height="12.50" fill="#c9c9c9" />
<rect x="446.70" y="267.10" width="52.20" height="12.50" fill="#c9c9c9" />
<rect x="244.80" y="280.40" width="200.60" height="15.30" fill="#e3e3e3" />
<rect x="446.70" y="280.40" width="52.20" height="15.30" fill="#e3e3e3" />
<rect x="244.80" y="296.50" width="200.60" height="26.40" fill="#c9c9c9" />
<rect x="446.70" y="296.50" width="52.20" height="26.40" fill="#c9c9c9" />
<rect x="244.80" y="324.60" width="200.60" height="13.90" fill="#e3e3e3" />
<rect x="446.70" y="324.60" width="52.20" height="13.90" fill="#e3e3e3" />
<rect x="244.80" y="339.60" width="200.60" height="13.40" fill="#c9c9c9" />
<rect x="446.70" y="339.60" width="52.20" height="13.40" fill="#c9c9c9" />
<text x="252.10" y="277.00" font-size="8.6" fill="#1a1a1a" text-anchor="start" font-weight="normal" >Ingenuity Canonical Pathways</text>
<text x="252.90" y="290.90" font-size="8.6" fill="#1a1a1a" text-anchor="start" font-weight="normal" >p53 Signaling</text>
<text x="252.10" y="307.00" font-size="8.6" fill="#1a1a1a" text-anchor="start" font-weight="normal" >Role of Pattern Recognition Receptors</text>
<text x="252.10" y="317.30" font-size="8.6" fill="#1a1a1a" text-anchor="start" font-weight="normal" >in Recognition of Bacteria and Viruses</text>
<text x="253.30" y="334.00" font-size="8.6" fill="#1a1a1a" text-anchor="start" font-weight="normal" >Aryl Hydrocarbon Receptor Signaling</text>
<text x="252.90" y="348.30" font-size="8.6" fill="#1a1a1a" text-anchor="start" font-weight="normal" >ATM Signaling</text>
<text x="452.70" y="277.00" font-size="8.6" fill="#1a1a1a" text-anchor="start" font-weight="normal" >P-value</text>
<text x="452.70" y="290.90" font-size="8.6" fill="#1a1a1a" text-anchor="start" font-weight="normal" >8.51E-05</text>
<text x="452.70" y="317.30" font-size="8.6" fill="#1a1a1a" text-anchor="start" font-weight="normal" >1.00E-04</text>
<text x="452.70" y="334.00" font-size="8.6" fill="#1a1a1a" text-anchor="start" font-weight="normal" >3.47E-04</text>
<text x="452.70" y="348.30" font-size="8.6" fill="#1a1a1a" text-anchor="start" font-weight="normal" >5.13E-04</text>
<defs><linearGradient id="cbg" x1="0" x2="1" y1="0" y2="0"><stop offset="0" stop-color="#e6303a"/><stop offset="0.144" stop-color="#e8363f"/><stop offset="0.146" stop-color="#ea4550"/><stop offset="0.288" stop-color="#ec5262"/><stop offset="0.29" stop-color="#ef7686"/><stop offset="0.38" stop-color="#f08ca0"/><stop offset="0.383" stop-color="#f2aac6"/><stop offset="0.44" stop-color="#f0b8d8"/><stop offset="0.53" stop-color="#e6d0ee"/><stop offset="0.62" stop-color="#d8d4f6"/><stop offset="0.73" stop-color="#cacaf4"/><stop offset="0.733" stop-color="#8c8cec"/><stop offset="0.81" stop-color="#7a78ea"/><stop offset="0.815" stop-color="#4c46dc"/><stop offset="1" stop-color="#3c34d2"/></linearGradient></defs>
<text x="7.70" y="417.30" font-size="10.5" fill="#000" text-anchor="start" font-weight="bold" >D</text>
<text x="40.80" y="423.80" font-size="8.7" fill="#111" text-anchor="start" font-weight="normal" >Enrichment plot: KHARAS_LSK_UP</text>
<rect x="35.60" y="494.70" width="149.20" height="21.30" fill="#fff" stroke="#d8d8d8" stroke-width="0.7"/>
<rect x="35.50" y="494.70" width="1.50" height="21.30" fill="#888" />
<rect x="37.00" y="494.70" width="2.80" height="21.30" fill="#666" />
<rect x="40.20" y="494.70" width="0.70" height="21.30" fill="#000" />
<rect x="40.90" y="494.70" width="1.60" height="21.30" fill="#888" />
<rect x="42.80" y="494.70" width="1.00" height="21.30" fill="#000" />
<rect x="43.80" y="494.70" width="2.90" height="21.30" fill="#555" />
<rect x="46.70" y="494.70" width="3.10" height="21.30" fill="#999" />
<rect x="52.00" y="494.70" width="1.20" height="21.30" fill="#777" />
<rect x="53.60" y="494.70" width="1.60" height="21.30" fill="#bbb" />
<rect x="55.50" y="494.70" width="1.50" height="21.30" fill="#000" />
<rect x="57.00" y="494.70" width="1.60" height="21.30" fill="#999" />
<rect x="59.00" y="494.70" width="1.20" height="21.30" fill="#000" />
<rect x="60.20" y="494.70" width="2.30" height="21.30" fill="#999" />
<rect x="64.00" y="494.70" width="2.30" height="21.30" fill="#aaa" />
<rect x="66.30" y="494.70" width="3.50" height="21.30" fill="#bbb" />
<rect x="70.20" y="494.70" width="1.10" height="21.30" fill="#000" />
<rect x="71.30" y="494.70" width="1.90" height="21.30" fill="#999" />
<rect x="73.20" y="494.70" width="2.60" height="21.30" fill="#ccc" />
<rect x="75.80" y="494.70" width="2.00" height="21.30" fill="#444" />
<rect x="77.80" y="494.70" width="1.50" height="21.30" fill="#ddd" />
<rect x="79.30" y="494.70" width="2.30" height="21.30" fill="#aaa" />
<rect x="85.80" y="494.70" width="1.20" height="21.30" fill="#333" />
<rect x="90.00" y="494.70" width="2.20" height="21.30" fill="#444" />
<rect x="92.20" y="494.70" width="2.50" height="21.30" fill="#bbb" />
<rect x="96.60" y="494.70" width="1.60" height="21.30" fill="#888" />
<rect x="98.20" y="494.70" width="1.80" height="21.30" fill="#aaa" />
<rect x="101.20" y="494.70" width="1.20" height="21.30" fill="#333" />
<rect x="105.00" y="494.70" width="3.90" height="21.30" fill="#bbb" />
<rect x="108.90" y="494.70" width="1.10" height="21.30" fill="#333" />
<rect x="110.00" y="494.70" width="0.80" height="21.30" fill="#ccc" />
<rect x="114.60" y="494.70" width="1.60" height="21.30" fill="#222" />
<rect x="117.70" y="494.70" width="1.90" height="21.30" fill="#555" />
<rect x="123.80" y="494.70" width="1.60" height="21.30" fill="#bbb" />
<rect x="127.70" y="494.70" width="1.50" height="21.30" fill="#444" />
<rect x="135.80" y="494.70" width="1.20" height="21.30" fill="#777" />
<rect x="141.50" y="494.70" width="2.30" height="21.30" fill="#888" />
<rect x="161.80" y="494.70" width="1.50" height="21.30" fill="#999" />
<rect x="169.00" y="494.70" width="1.60" height="21.30" fill="#999" />
<rect x="173.30" y="494.70" width="1.20" height="21.30" fill="#888" />
<rect x="174.50" y="494.70" width="1.10" height="21.30" fill="#777" />
<rect x="176.00" y="494.70" width="1.20" height="21.30" fill="#000" />
<rect x="35.60" y="516.30" width="141.40" height="5.50" fill="url(#cbg)"/>
<rect x="35.60" y="428.50" width="149.20" height="66.20" fill="none" stroke="#222" stroke-width="0.9"/>
<line x1="35.60" y1="464.40" x2="184.80" y2="464.40" stroke="#222" stroke-width="0.9" />
<line x1="33.00" y1="436.20" x2="35.60" y2="436.20" stroke="#222" stroke-width="0.8" />
<text x="31.00" y="438.50" font-size="6.8" fill="#222" text-anchor="end" font-weight="normal" >0.3</text>
<line x1="33.00" y1="445.60" x2="35.60" y2="445.60" stroke="#222" stroke-width="0.8" />
<text x="31.00" y="447.90" font-size="6.8" fill="#222" text-anchor="end" font-weight="normal" >0.2</text>
<line x1="33.00" y1="455.00" x2="35.60" y2="455.00" stroke="#222" stroke-width="0.8" />
<text x="31.00" y="457.30" font-size="6.8" fill="#222" text-anchor="end" font-weight="normal" >0.1</text>
<line x1="33.00" y1="464.40" x2="35.60" y2="464.40" stroke="#222" stroke-width="0.8" />
<text x="31.00" y="466.70" font-size="6.8" fill="#222" text-anchor="end" font-weight="normal" >0.0</text>
<line x1="33.00" y1="473.80" x2="35.60" y2="473.80" stroke="#222" stroke-width="0.8" />
<text x="31.00" y="476.10" font-size="6.8" fill="#222" text-anchor="end" font-weight="normal" >-0.1</text>
<line x1="33.00" y1="483.20" x2="35.60" y2="483.20" stroke="#222" stroke-width="0.8" />
<text x="31.00" y="485.50" font-size="6.8" fill="#222" text-anchor="end" font-weight="normal" >-0.2</text>
<line x1="33.00" y1="492.60" x2="35.60" y2="492.60" stroke="#222" stroke-width="0.8" />
<text x="31.00" y="494.90" font-size="6.8" fill="#222" text-anchor="end" font-weight="normal" >-0.3</text>
<polyline points="35.6,464.4 36.5,458.0 37.5,452.0 39.0,447.0 40.5,444.0 42.0,441.0 43.5,440.0 45.0,436.0 47.0,433.0 49.0,432.0 51.0,432.5 53.0,431.0 55.0,430.5 57.0,431.5 59.0,430.2 61.0,431.0 63.0,432.0 66.0,432.5 69.0,432.0 72.0,432.6 75.0,433.2 78.0,434.0 82.0,436.0 90.0,440.5 100.0,446.5 110.0,452.5 120.0,458.8 130.0,465.0 140.0,471.0 150.0,477.5 160.0,484.0 166.0,488.0 170.0,490.5 172.0,491.5 173.5,490.6 175.0,488.5 176.0,476.0 177.0,464.4" fill="none" stroke="#68a238" stroke-width="1.2" stroke-linejoin="round"/>
<text transform="translate(13.10,473.80) rotate(-90)" font-size="8.2" fill="#222" text-anchor="middle" textLength="76.5" lengthAdjust="spacingAndGlyphs">Enrichment score (ES)</text>
<text x="107.70" y="442.60" font-size="8.6" fill="#922a48" text-anchor="start" font-weight="normal" >NES=1.46</text>
<text x="107.70" y="452.50" font-size="8.6" fill="#922a48" text-anchor="start" font-weight="normal" >FDR-qval=0.009</text>
<text x="35.60" y="532.80" font-size="8.5" fill="#111" text-anchor="start" font-weight="normal" >Ctrl</text>
<text x="184.00" y="533.20" font-size="8.4" fill="#111" text-anchor="end" font-weight="normal" >cDKO</text>
<text x="7.90" y="559.80" font-size="10.5" fill="#000" text-anchor="start" font-weight="bold" >E</text>
<text x="109.40" y="557.30" font-size="8.6" fill="#111" text-anchor="middle" font-weight="normal" >Enrichment plot:</text>
<text x="109.90" y="567.50" font-size="8.85" fill="#111" text-anchor="middle" font-weight="normal" >KEGG_P53_SIGNALING_PATHWAY</text>
<rect x="35.50" y="639.60" width="149.30" height="22.10" fill="#fff" stroke="#d8d8d8" stroke-width="0.7"/>
<rect x="36.70" y="639.60" width="1.10" height="22.10" fill="#333" />
<rect x="42.00" y="639.60" width="2.00" height="22.10" fill="#777" />
<rect x="46.70" y="639.60" width="1.50" height="22.10" fill="#999" />
<rect x="48.20" y="639.60" width="3.50" height="22.10" fill="#bbb" />
<rect x="62.50" y="639.60" width="1.50" height="22.10" fill="#999" />
<rect x="66.00" y="639.60" width="1.00" height="22.10" fill="#333" />
<rect x="78.90" y="639.60" width="1.20" height="22.10" fill="#333" />
<rect x="85.80" y="639.60" width="1.20" height="22.10" fill="#333" />
<rect x="88.90" y="639.60" width="1.20" height="22.10" fill="#666" />
<rect x="93.20" y="639.60" width="1.80" height="22.10" fill="#ccc" />
<rect x="95.00" y="639.60" width="1.60" height="22.10" fill="#999" />
<rect x="99.30" y="639.60" width="1.90" height="22.10" fill="#777" />
<rect x="103.50" y="639.60" width="2.30" height="22.10" fill="#999" />
<rect x="107.80" y="639.60" width="1.10" height="22.10" fill="#888" />
<rect x="109.70" y="639.60" width="1.10" height="22.10" fill="#999" />
<rect x="138.80" y="639.60" width="1.60" height="22.10" fill="#888" />
<rect x="141.90" y="639.60" width="1.10" height="22.10" fill="#666" />
<rect x="154.00" y="639.60" width="1.60" height="22.10" fill="#aaa" />
<rect x="158.30" y="639.60" width="3.10" height="22.10" fill="#aaa" />
<rect x="161.40" y="639.60" width="3.10" height="22.10" fill="#999" />
<rect x="164.80" y="639.60" width="2.00" height="22.10" fill="#111" />
<rect x="169.80" y="639.60" width="2.40" height="22.10" fill="#999" />
<rect x="172.50" y="639.60" width="2.30" height="22.10" fill="#222" />
<rect x="175.60" y="639.60" width="1.20" height="22.10" fill="#888" />
<rect x="35.50" y="662.20" width="141.60" height="4.80" fill="url(#cbg)"/>
<rect x="35.50" y="572.90" width="149.30" height="66.70" fill="none" stroke="#222" stroke-width="0.9"/>
<line x1="35.50" y1="587.40" x2="184.80" y2="587.40" stroke="#222" stroke-width="0.9" />
<line x1="32.90" y1="577.36" x2="35.50" y2="577.36" stroke="#222" stroke-width="0.8" />
<text x="30.90" y="579.66" font-size="6.8" fill="#222" text-anchor="end" font-weight="normal" >0.1</text>
<line x1="32.90" y1="587.40" x2="35.50" y2="587.40" stroke="#222" stroke-width="0.8" />
<text x="30.90" y="589.70" font-size="6.8" fill="#222" text-anchor="end" font-weight="normal" >0.0</text>
<line x1="32.90" y1="597.44" x2="35.50" y2="597.44" stroke="#222" stroke-width="0.8" />
<text x="30.90" y="599.74" font-size="6.8" fill="#222" text-anchor="end" font-weight="normal" >-0.1</text>
<line x1="32.90" y1="607.48" x2="35.50" y2="607.48" stroke="#222" stroke-width="0.8" />
<text x="30.90" y="609.78" font-size="6.8" fill="#222" text-anchor="end" font-weight="normal" >-0.2</text>
<line x1="32.90" y1="617.52" x2="35.50" y2="617.52" stroke="#222" stroke-width="0.8" />
<text x="30.90" y="619.82" font-size="6.8" fill="#222" text-anchor="end" font-weight="normal" >-0.3</text>
<line x1="32.90" y1="627.56" x2="35.50" y2="627.56" stroke="#222" stroke-width="0.8" />
<text x="30.90" y="629.86" font-size="6.8" fill="#222" text-anchor="end" font-weight="normal" >-0.4</text>
<line x1="32.90" y1="637.60" x2="35.50" y2="637.60" stroke="#222" stroke-width="0.8" />
<text x="30.90" y="639.90" font-size="6.8" fill="#222" text-anchor="end" font-weight="normal" >-0.5</text>
<polyline points="35.5,578.0 37.0,579.0 38.5,580.5 40.0,577.5 41.5,578.5 43.0,580.0 44.5,577.0 46.0,576.5 47.5,578.3 49.0,577.5 50.5,577.0 52.0,576.0 54.0,576.4 56.0,577.5 58.0,579.0 60.0,580.0 62.0,581.5 64.0,582.5 66.0,583.4 67.0,582.6 69.0,585.0 72.0,587.4 76.0,589.0 80.0,590.0 85.0,592.0 90.0,594.2 95.0,596.5 100.0,599.0 110.0,604.2 120.0,609.8 130.0,616.0 140.0,623.0 148.0,629.0 152.0,633.0 154.0,635.8 156.0,636.2 157.0,635.0 159.0,632.8 161.0,630.0 163.0,627.5 164.0,622.0 165.0,615.2 166.5,616.5 168.2,616.3 170.0,615.8 171.3,615.2 172.5,611.0 173.4,607.0 174.4,596.7 175.9,586.3" fill="none" stroke="#68a238" stroke-width="1.2" stroke-linejoin="round"/>
<text transform="translate(13.10,616.20) rotate(-90)" font-size="8.2" fill="#222" text-anchor="middle" textLength="76.5" lengthAdjust="spacingAndGlyphs">Enrichment score (ES)</text>
<text x="98.30" y="584.00" font-size="8.6" fill="#922a48" text-anchor="start" font-weight="normal" >NES=-1.85</text>
<text x="98.30" y="595.00" font-size="8.6" fill="#922a48" text-anchor="start" font-weight="normal" >FDR-qval=0.007</text>
<text x="35.50" y="677.40" font-size="8.5" fill="#111" text-anchor="start" font-weight="normal" >Ctrl</text>
<text x="184.10" y="677.40" font-size="8.4" fill="#111" text-anchor="end" font-weight="normal" >cDKO</text>
<text x="335.10" y="417.30" font-size="10.5" fill="#000" text-anchor="start" font-weight="bold" >G</text>
<text x="367.60" y="424.00" font-size="8.7" fill="#111" text-anchor="start" font-weight="normal" >Enrichment plot: ESSERS_IFNA_UP</text>
<rect x="363.60" y="428.50" width="148.80" height="3.50" fill="#f0f0f0" />
<rect x="363.60" y="494.70" width="148.80" height="22.40" fill="#fff" stroke="#d8d8d8" stroke-width="0.7"/>
<rect x="365.80" y="494.70" width="1.60" height="22.40" fill="#888" />
<rect x="411.00" y="494.70" width="1.20" height="22.40" fill="#777" />
<rect x="428.20" y="494.70" width="1.80" height="22.40" fill="#888" />
<rect x="432.00" y="494.70" width="1.00" height="22.40" fill="#888" />
<rect x="433.50" y="494.70" width="1.10" height="22.40" fill="#999" />
<rect x="484.90" y="494.70" width="1.30" height="22.40" fill="#777" />
<rect x="500.80" y="494.70" width="1.00" height="22.40" fill="#999" />
<rect x="503.80" y="494.70" width="1.60" height="22.40" fill="#000" />
<rect x="363.60" y="517.50" width="141.80" height="5.50" fill="url(#cbg)"/>
<rect x="363.60" y="428.50" width="148.80" height="66.20" fill="none" stroke="#222" stroke-width="0.9"/>
<line x1="363.60" y1="432.00" x2="512.40" y2="432.00" stroke="#222" stroke-width="0.9" />
<line x1="361.00" y1="432.00" x2="363.60" y2="432.00" stroke="#222" stroke-width="0.8" />
<text x="359.00" y="434.30" font-size="6.8" fill="#222" text-anchor="end" font-weight="normal" >0.0</text>
<line x1="361.00" y1="438.51" x2="363.60" y2="438.51" stroke="#222" stroke-width="0.8" />
<text x="359.00" y="440.81" font-size="6.8" fill="#222" text-anchor="end" font-weight="normal" >-0.1</text>
<line x1="361.00" y1="445.02" x2="363.60" y2="445.02" stroke="#222" stroke-width="0.8" />
<text x="359.00" y="447.32" font-size="6.8" fill="#222" text-anchor="end" font-weight="normal" >-0.2</text>
<line x1="361.00" y1="451.53" x2="363.60" y2="451.53" stroke="#222" stroke-width="0.8" />
<text x="359.00" y="453.83" font-size="6.8" fill="#222" text-anchor="end" font-weight="normal" >-0.3</text>
<line x1="361.00" y1="458.04" x2="363.60" y2="458.04" stroke="#222" stroke-width="0.8" />
<text x="359.00" y="460.34" font-size="6.8" fill="#222" text-anchor="end" font-weight="normal" >-0.4</text>
<line x1="361.00" y1="464.55" x2="363.60" y2="464.55" stroke="#222" stroke-width="0.8" />
<text x="359.00" y="466.85" font-size="6.8" fill="#222" text-anchor="end" font-weight="normal" >-0.5</text>
<line x1="361.00" y1="471.06" x2="363.60" y2="471.06" stroke="#222" stroke-width="0.8" />
<text x="359.00" y="473.36" font-size="6.8" fill="#222" text-anchor="end" font-weight="normal" >-0.6</text>
<line x1="361.00" y1="477.57" x2="363.60" y2="477.57" stroke="#222" stroke-width="0.8" />
<text x="359.00" y="479.87" font-size="6.8" fill="#222" text-anchor="end" font-weight="normal" >-0.7</text>
<line x1="361.00" y1="484.08" x2="363.60" y2="484.08" stroke="#222" stroke-width="0.8" />
<text x="359.00" y="486.38" font-size="6.8" fill="#222" text-anchor="end" font-weight="normal" >-0.8</text>
<line x1="361.00" y1="490.59" x2="363.60" y2="490.59" stroke="#222" stroke-width="0.8" />
<text x="359.00" y="492.89" font-size="6.8" fill="#222" text-anchor="end" font-weight="normal" >-0.9</text>
<polyline points="363.6,432.1 380.0,439.2 400.0,447.8 420.0,456.4 440.0,465.1 460.0,473.8 480.0,482.4 495.0,488.9 500.0,491.3 502.0,491.8 503.5,490.5 504.8,470.0 505.5,432.6" fill="none" stroke="#68a238" stroke-width="1.2" stroke-linejoin="round"/>
<text transform="translate(341.10,474.20) rotate(-90)" font-size="8.2" fill="#222" text-anchor="middle" textLength="76.5" lengthAdjust="spacingAndGlyphs">Enrichment score (ES)</text>
<text x="433.20" y="446.80" font-size="8.6" fill="#922a48" text-anchor="start" font-weight="normal" >NES=-2.86</text>
<text x="433.20" y="457.00" font-size="8.6" fill="#922a48" text-anchor="start" font-weight="normal" >FDR-qval=0.000</text>
<text x="369.70" y="533.60" font-size="8.5" fill="#111" text-anchor="start" font-weight="normal" >Ctrl</text>
<text x="499.40" y="534.20" font-size="8.4" fill="#111" text-anchor="end" font-weight="normal" >cDKO</text>
<text x="192.70" y="417.30" font-size="10.5" fill="#000" text-anchor="start" font-weight="bold" >F</text>
<defs><linearGradient id="zg" x1="0" x2="1"><stop offset="0" stop-color="#12e012"/><stop offset="0.5" stop-color="#000"/><stop offset="1" stop-color="#ee0a0a"/></linearGradient></defs>
<rect x="219.00" y="427.00" width="42.80" height="5.00" fill="url(#zg)" />
<line x1="222.00" y1="432.00" x2="222.00" y2="435.50" stroke="#111" stroke-width="0.8" />
<line x1="228.20" y1="432.00" x2="228.20" y2="435.50" stroke="#111" stroke-width="0.8" />
<line x1="234.50" y1="432.00" x2="234.50" y2="435.50" stroke="#111" stroke-width="0.8" />
<line x1="240.50" y1="432.00" x2="240.50" y2="435.50" stroke="#111" stroke-width="0.8" />
<line x1="246.80" y1="432.00" x2="246.80" y2="435.50" stroke="#111" stroke-width="0.8" />
<line x1="253.00" y1="432.00" x2="253.00" y2="435.50" stroke="#111" stroke-width="0.8" />
<line x1="258.80" y1="432.00" x2="258.80" y2="435.50" stroke="#111" stroke-width="0.8" />
<text x="222.00" y="442.30" font-size="5.0" fill="#222" text-anchor="middle" font-weight="normal" >-1.5</text>
<text x="234.50" y="442.30" font-size="5.0" fill="#222" text-anchor="middle" font-weight="normal" >-0.5</text>
<text x="246.80" y="442.30" font-size="5.0" fill="#222" text-anchor="middle" font-weight="normal" >0.5</text>
<text x="258.80" y="442.30" font-size="5.0" fill="#222" text-anchor="middle" font-weight="normal" >1.5</text>
<text x="240.50" y="449.60" font-size="6.6" fill="#222" text-anchor="middle" font-weight="normal" >Row Z-score</text>
<rect x="250.50" y="453.70" width="25.80" height="4.80" fill="#0a0a0a" />
<rect x="276.30" y="453.70" width="26.00" height="4.80" fill="#3a98e4" />
<g shape-rendering="crispEdges">
<rect x="250.70" y="462.00" width="8.92" height="6.30" fill="#6a0a0a" />
<rect x="259.32" y="462.00" width="8.92" height="6.30" fill="#a01010" />
<rect x="267.93" y="462.00" width="8.92" height="6.30" fill="#20c020" />
<rect x="276.55" y="462.00" width="8.92" height="6.30" fill="#0c4a10" />
<rect x="285.17" y="462.00" width="8.92" height="6.30" fill="#c01010" />
<rect x="293.78" y="462.00" width="8.92" height="6.30" fill="#108a20" />
<rect x="250.70" y="468.00" width="8.92" height="6.30" fill="#20a020" />
<rect x="259.32" y="468.00" width="8.92" height="6.30" fill="#8a0a0a" />
<rect x="267.93" y="468.00" width="8.92" height="6.30" fill="#3a0808" />
<rect x="276.55" y="468.00" width="8.92" height="6.30" fill="#0a3a0a" />
<rect x="285.17" y="468.00" width="8.92" height="6.30" fill="#ff1010" />
<rect x="293.78" y="468.00" width="8.92" height="6.30" fill="#10902a" />
<rect x="250.70" y="474.00" width="8.92" height="6.30" fill="#0a3a0a" />
<rect x="259.32" y="474.00" width="8.92" height="6.30" fill="#104010" />
<rect x="267.93" y="474.00" width="8.92" height="6.30" fill="#4a0808" />
<rect x="276.55" y="474.00" width="8.92" height="6.30" fill="#20c020" />
<rect x="285.17" y="474.00" width="8.92" height="6.30" fill="#ff1010" />
<rect x="293.78" y="474.00" width="8.92" height="6.30" fill="#0a0a0a" />
<rect x="250.70" y="480.00" width="8.92" height="6.30" fill="#d01010" />
<rect x="259.32" y="480.00" width="8.92" height="6.30" fill="#900a0a" />
<rect x="267.93" y="480.00" width="8.92" height="6.30" fill="#900a0a" />
<rect x="276.55" y="480.00" width="8.92" height="6.30" fill="#20b020" />
<rect x="285.17" y="480.00" width="8.92" height="6.30" fill="#10902a" />
<rect x="293.78" y="480.00" width="8.92" height="6.30" fill="#10902a" />
<rect x="250.70" y="486.00" width="8.92" height="6.30" fill="#0a300a" />
<rect x="259.32" y="486.00" width="8.92" height="6.30" fill="#a00a0a" />
<rect x="267.93" y="486.00" width="8.92" height="6.30" fill="#a00a0a" />
<rect x="276.55" y="486.00" width="8.92" height="6.30" fill="#800a0a" />
<rect x="285.17" y="486.00" width="8.92" height="6.30" fill="#20b030" />
<rect x="293.78" y="486.00" width="8.92" height="6.30" fill="#20b030" />
<rect x="250.70" y="492.00" width="8.92" height="6.30" fill="#0c9a0e" />
<rect x="259.32" y="492.00" width="8.92" height="6.30" fill="#0c9a0e" />
<rect x="267.93" y="492.00" width="8.92" height="6.30" fill="#0c9a0e" />
<rect x="276.55" y="492.00" width="8.92" height="6.30" fill="#a30606" />
<rect x="285.17" y="492.00" width="8.92" height="6.30" fill="#a30606" />
<rect x="293.78" y="492.00" width="8.92" height="6.30" fill="#a30606" />
<rect x="250.70" y="498.00" width="8.92" height="6.30" fill="#0c9a0e" />
<rect x="259.32" y="498.00" width="8.92" height="6.30" fill="#0c9a0e" />
<rect x="267.93" y="498.00" width="8.92" height="6.30" fill="#0c9a0e" />
<rect x="276.55" y="498.00" width="8.92" height="6.30" fill="#a30606" />
<rect x="285.17" y="498.00" width="8.92" height="6.30" fill="#a30606" />
<rect x="293.78" y="498.00" width="8.92" height="6.30" fill="#a30606" />
<rect x="250.70" y="504.00" width="8.92" height="6.30" fill="#0a7a10" />
<rect x="259.32" y="504.00" width="8.92" height="6.30" fill="#14a818" />
<rect x="267.93" y="504.00" width="8.92" height="6.30" fill="#0c9a0e" />
<rect x="276.55" y="504.00" width="8.92" height="6.30" fill="#a30606" />
<rect x="285.17" y="504.00" width="8.92" height="6.30" fill="#a30606" />
<rect x="293.78" y="504.00" width="8.92" height="6.30" fill="#a30606" />
<rect x="250.70" y="510.00" width="8.92" height="6.30" fill="#0a6a10" />
<rect x="259.32" y="510.00" width="8.92" height="6.30" fill="#18b020" />
<rect x="267.93" y="510.00" width="8.92" height="6.30" fill="#0c9a0e" />
<rect x="276.55" y="510.00" width="8.92" height="6.30" fill="#a30606" />
<rect x="285.17" y="510.00" width="8.92" height="6.30" fill="#a30606" />
<rect x="293.78" y="510.00" width="8.92" height="6.30" fill="#a30606" />
<rect x="250.70" y="516.00" width="8.92" height="6.30" fill="#0a6a10" />
<rect x="259.32" y="516.00" width="8.92" height="6.30" fill="#18b020" />
<rect x="267.93" y="516.00" width="8.92" height="6.30" fill="#0c9a0e" />
<rect x="276.55" y="516.00" width="8.92" height="6.30" fill="#a30606" />
<rect x="285.17" y="516.00" width="8.92" height="6.30" fill="#a30606" />
<rect x="293.78" y="516.00" width="8.92" height="6.30" fill="#a30606" />
<rect x="250.70" y="522.00" width="8.92" height="6.30" fill="#0a7a10" />
<rect x="259.32" y="522.00" width="8.92" height="6.30" fill="#18b020" />
<rect x="267.93" y="522.00" width="8.92" height="6.30" fill="#0c9a0e" />
<rect x="276.55" y="522.00" width="8.92" height="6.30" fill="#a30606" />
<rect x="285.17" y="522.00" width="8.92" height="6.30" fill="#a30606" />
<rect x="293.78" y="522.00" width="8.92" height="6.30" fill="#a30606" />
<rect x="250.70" y="528.00" width="8.92" height="6.30" fill="#0a8210" />
<rect x="259.32" y="528.00" width="8.92" height="6.30" fill="#14a818" />
<rect x="267.93" y="528.00" width="8.92" height="6.30" fill="#0c9a0e" />
<rect x="276.55" y="528.00" width="8.92" height="6.30" fill="#a30606" />
<rect x="285.17" y="528.00" width="8.92" height="6.30" fill="#a30606" />
<rect x="293.78" y="528.00" width="8.92" height="6.30" fill="#a30606" />
<rect x="250.70" y="534.00" width="8.92" height="6.30" fill="#0c9a0e" />
<rect x="259.32" y="534.00" width="8.92" height="6.30" fill="#0c9a0e" />
<rect x="267.93" y="534.00" width="8.92" height="6.30" fill="#0c9a0e" />
<rect x="276.55" y="534.00" width="8.92" height="6.30" fill="#a30606" />
<rect x="285.17" y="534.00" width="8.92" height="6.30" fill="#a30606" />
<rect x="293.78" y="534.00" width="8.92" height="6.30" fill="#a30606" />
<rect x="250.70" y="540.00" width="8.92" height="6.30" fill="#0c9a0e" />
<rect x="259.32" y="540.00" width="8.92" height="6.30" fill="#0c9a0e" />
<rect x="267.93" y="540.00" width="8.92" height="6.30" fill="#0c9a0e" />
<rect x="276.55" y="540.00" width="8.92" height="6.30" fill="#a30606" />
<rect x="285.17" y="540.00" width="8.92" height="6.30" fill="#a30606" />
<rect x="293.78" y="540.00" width="8.92" height="6.30" fill="#a30606" />
<rect x="250.70" y="546.00" width="8.92" height="6.30" fill="#0a4a0a" />
<rect x="259.32" y="546.00" width="8.92" height="6.30" fill="#18b020" />
<rect x="267.93" y="546.00" width="8.92" height="6.30" fill="#109a1c" />
<rect x="276.55" y="546.00" width="8.92" height="6.30" fill="#a00808" />
<rect x="285.17" y="546.00" width="8.92" height="6.30" fill="#500808" />
<rect x="293.78" y="546.00" width="8.92" height="6.30" fill="#a00808" />
<rect x="250.70" y="552.00" width="8.92" height="6.30" fill="#0c9a0e" />
<rect x="259.32" y="552.00" width="8.92" height="6.30" fill="#0c9a0e" />
<rect x="267.93" y="552.00" width="8.92" height="6.30" fill="#0c9a0e" />
<rect x="276.55" y="552.00" width="8.92" height="6.30" fill="#a30606" />
<rect x="285.17" y="552.00" width="8.92" height="6.30" fill="#a30606" />
<rect x="293.78" y="552.00" width="8.92" height="6.30" fill="#a30606" />
<rect x="250.70" y="558.00" width="8.92" height="6.30" fill="#0c9a0e" />
<rect x="259.32" y="558.00" width="8.92" height="6.30" fill="#0c9a0e" />
<rect x="267.93" y="558.00" width="8.92" height="6.30" fill="#0c9a0e" />
<rect x="276.55" y="558.00" width="8.92" height="6.30" fill="#a30606" />
<rect x="285.17" y="558.00" width="8.92" height="6.30" fill="#a30606" />
<rect x="293.78" y="558.00" width="8.92" height="6.30" fill="#a30606" />
<rect x="250.70" y="564.00" width="8.92" height="6.30" fill="#f01818" />
<rect x="259.32" y="564.00" width="8.92" height="6.30" fill="#18a020" />
<rect x="267.93" y="564.00" width="8.92" height="6.30" fill="#108010" />
<rect x="276.55" y="564.00" width="8.92" height="6.30" fill="#100808" />
<rect x="285.17" y="564.00" width="8.92" height="6.30" fill="#0a300a" />
<rect x="293.78" y="564.00" width="8.92" height="6.30" fill="#0a200a" />
<rect x="250.70" y="570.00" width="8.92" height="6.30" fill="#0c9a0e" />
<rect x="259.32" y="570.00" width="8.92" height="6.30" fill="#0c9a0e" />
<rect x="267.93" y="570.00" width="8.92" height="6.30" fill="#0c9a0e" />
<rect x="276.55" y="570.00" width="8.92" height="6.30" fill="#a30606" />
<rect x="285.17" y="570.00" width="8.92" height="6.30" fill="#a30606" />
<rect x="293.78" y="570.00" width="8.92" height="6.30" fill="#a30606" />
<rect x="250.70" y="576.00" width="8.92" height="6.30" fill="#0a8a1a" />
<rect x="259.32" y="576.00" width="8.92" height="6.30" fill="#109a1c" />
<rect x="267.93" y="576.00" width="8.92" height="6.30" fill="#109a1c" />
<rect x="276.55" y="576.00" width="8.92" height="6.30" fill="#b00a0a" />
<rect x="285.17" y="576.00" width="8.92" height="6.30" fill="#a00808" />
<rect x="293.78" y="576.00" width="8.92" height="6.30" fill="#a00808" />
<rect x="250.70" y="582.00" width="8.92" height="6.30" fill="#0c9a0e" />
<rect x="259.32" y="582.00" width="8.92" height="6.30" fill="#0c9a0e" />
<rect x="267.93" y="582.00" width="8.92" height="6.30" fill="#0c9a0e" />
<rect x="276.55" y="582.00" width="8.92" height="6.30" fill="#a30606" />
<rect x="285.17" y="582.00" width="8.92" height="6.30" fill="#a30606" />
<rect x="293.78" y="582.00" width="8.92" height="6.30" fill="#a30606" />
<rect x="250.70" y="588.00" width="8.92" height="6.30" fill="#0c9a0e" />
<rect x="259.32" y="588.00" width="8.92" height="6.30" fill="#0c9a0e" />
<rect x="267.93" y="588.00" width="8.92" height="6.30" fill="#0c9a0e" />
<rect x="276.55" y="588.00" width="8.92" height="6.30" fill="#a30606" />
<rect x="285.17" y="588.00" width="8.92" height="6.30" fill="#a30606" />
<rect x="293.78" y="588.00" width="8.92" height="6.30" fill="#a30606" />
<rect x="250.70" y="594.00" width="8.92" height="6.30" fill="#0c9a0e" />
<rect x="259.32" y="594.00" width="8.92" height="6.30" fill="#0c9a0e" />
<rect x="267.93" y="594.00" width="8.92" height="6.30" fill="#0c9a0e" />
<rect x="276.55" y="594.00" width="8.92" height="6.30" fill="#a30606" />
<rect x="285.17" y="594.00" width="8.92" height="6.30" fill="#a30606" />
<rect x="293.78" y="594.00" width="8.92" height="6.30" fill="#a30606" />
<rect x="250.70" y="600.00" width="8.92" height="6.30" fill="#0c9a0e" />
<rect x="259.32" y="600.00" width="8.92" height="6.30" fill="#0c9a0e" />
<rect x="267.93" y="600.00" width="8.92" height="6.30" fill="#0c9a0e" />
<rect x="276.55" y="600.00" width="8.92" height="6.30" fill="#a30606" />
<rect x="285.17" y="600.00" width="8.92" height="6.30" fill="#a30606" />
<rect x="293.78" y="600.00" width="8.92" height="6.30" fill="#a30606" />
<rect x="250.70" y="606.00" width="8.92" height="6.30" fill="#0c9a0e" />
<rect x="259.32" y="606.00" width="8.92" height="6.30" fill="#0c9a0e" />
<rect x="267.93" y="606.00" width="8.92" height="6.30" fill="#0c9a0e" />
<rect x="276.55" y="606.00" width="8.92" height="6.30" fill="#a30606" />
<rect x="285.17" y="606.00" width="8.92" height="6.30" fill="#a30606" />
<rect x="293.78" y="606.00" width="8.92" height="6.30" fill="#a30606" />
<rect x="250.70" y="612.00" width="8.92" height="6.30" fill="#0c9a0e" />
<rect x="259.32" y="612.00" width="8.92" height="6.30" fill="#0c9a0e" />
<rect x="267.93" y="612.00" width="8.92" height="6.30" fill="#0c9a0e" />
<rect x="276.55" y="612.00" width="8.92" height="6.30" fill="#a30606" />
<rect x="285.17" y="612.00" width="8.92" height="6.30" fill="#a30606" />
<rect x="293.78" y="612.00" width="8.92" height="6.30" fill="#a30606" />
<rect x="250.70" y="618.00" width="8.92" height="6.30" fill="#0c9a0e" />
<rect x="259.32" y="618.00" width="8.92" height="6.30" fill="#0c9a0e" />
<rect x="267.93" y="618.00" width="8.92" height="6.30" fill="#0c9a0e" />
<rect x="276.55" y="618.00" width="8.92" height="6.30" fill="#a30606" />
<rect x="285.17" y="618.00" width="8.92" height="6.30" fill="#a30606" />
<rect x="293.78" y="618.00" width="8.92" height="6.30" fill="#a30606" />
<rect x="250.70" y="624.00" width="8.92" height="6.30" fill="#0c9a0e" />
<rect x="259.32" y="624.00" width="8.92" height="6.30" fill="#0c9a0e" />
<rect x="267.93" y="624.00" width="8.92" height="6.30" fill="#0c9a0e" />
<rect x="276.55" y="624.00" width="8.92" height="6.30" fill="#a30606" />
<rect x="285.17" y="624.00" width="8.92" height="6.30" fill="#a30606" />
<rect x="293.78" y="624.00" width="8.92" height="6.30" fill="#a30606" />
</g>
<text x="305.50" y="466.90" font-size="5.4" fill="#111" text-anchor="start" font-weight="normal" >Mdm2</text>
<text x="305.50" y="472.90" font-size="5.4" fill="#111" text-anchor="start" font-weight="normal" >Pten</text>
<text x="305.50" y="478.90" font-size="5.4" fill="#111" text-anchor="start" font-weight="normal" >Ccnb2</text>
<text x="305.50" y="484.90" font-size="5.4" fill="#111" text-anchor="start" font-weight="normal" >Ifi205</text>
<text x="305.50" y="490.90" font-size="5.4" fill="#111" text-anchor="start" font-weight="normal" >Akt3</text>
<text x="305.50" y="496.90" font-size="5.4" fill="#111" text-anchor="start" font-weight="normal" >Oasl1</text>
<text x="305.50" y="502.90" font-size="5.4" fill="#111" text-anchor="start" font-weight="normal" >Ifitm3</text>
<text x="305.50" y="508.90" font-size="5.4" fill="#111" text-anchor="start" font-weight="normal" >Oas1a</text>
<text x="305.50" y="514.90" font-size="5.4" fill="#111" text-anchor="start" font-weight="normal" >Ifi204</text>
<text x="305.50" y="520.90" font-size="5.4" fill="#111" text-anchor="start" font-weight="normal" >Oas2</text>
<text x="305.50" y="526.90" font-size="5.4" fill="#111" text-anchor="start" font-weight="normal" >Mx1</text>
<text x="305.50" y="532.90" font-size="5.4" fill="#111" text-anchor="start" font-weight="normal" >Ifit1</text>
<text x="305.50" y="538.90" font-size="5.4" fill="#111" text-anchor="start" font-weight="normal" >Oas3</text>
<text x="305.50" y="544.90" font-size="5.4" fill="#111" text-anchor="start" font-weight="normal" >Isg20</text>
<text x="305.50" y="550.90" font-size="5.4" fill="#111" text-anchor="start" font-weight="normal" >Elavl1</text>
<text x="305.50" y="556.90" font-size="5.4" fill="#111" text-anchor="start" font-weight="normal" >Ifi35</text>
<text x="305.50" y="562.90" font-size="5.4" fill="#111" text-anchor="start" font-weight="normal" >Mx2</text>
<text x="305.50" y="568.90" font-size="5.4" fill="#111" text-anchor="start" font-weight="normal" >Cdk7</text>
<text x="305.50" y="574.90" font-size="5.4" fill="#111" text-anchor="start" font-weight="normal" >Iigp1</text>
<text x="305.50" y="580.90" font-size="5.4" fill="#111" text-anchor="start" font-weight="normal" >Ifi203</text>
<text x="305.50" y="586.90" font-size="5.4" fill="#111" text-anchor="start" font-weight="normal" >Ly6a</text>
<text x="305.50" y="592.90" font-size="5.4" fill="#111" text-anchor="start" font-weight="normal" >Stat1</text>
<text x="305.50" y="598.90" font-size="5.4" fill="#111" text-anchor="start" font-weight="normal" >Igtp</text>
<text x="305.50" y="604.90" font-size="5.4" fill="#111" text-anchor="start" font-weight="normal" >Ifi47</text>
<text x="305.50" y="610.90" font-size="5.4" fill="#111" text-anchor="start" font-weight="normal" >Oasl2</text>
<text x="305.50" y="616.90" font-size="5.4" fill="#111" text-anchor="start" font-weight="normal" >Ifit2</text>
<text x="305.50" y="622.90" font-size="5.4" fill="#111" text-anchor="start" font-weight="normal" >Ifit1</text>
<text x="305.50" y="628.90" font-size="5.4" fill="#111" text-anchor="start" font-weight="normal" >Ifit3</text>
<text transform="translate(254.50,637.2) rotate(-45)" font-size="5.5" fill="#222" text-anchor="end">Ctrl_3</text>
<text transform="translate(263.80,637.2) rotate(-45)" font-size="5.5" fill="#222" text-anchor="end">Ctrl_1</text>
<text transform="translate(273.10,637.2) rotate(-45)" font-size="5.5" fill="#222" text-anchor="end">Ctrl_2</text>
<text transform="translate(282.40,637.2) rotate(-45)" font-size="5.5" fill="#222" text-anchor="end">cDKO_1</text>
<text transform="translate(291.70,637.2) rotate(-45)" font-size="5.5" fill="#222" text-anchor="end">cDKO_2</text>
<text transform="translate(301.00,637.2) rotate(-45)" font-size="5.5" fill="#222" text-anchor="end">cDKO_3</text>
<line x1="224.30" y1="479.70" x2="224.30" y2="582.50" stroke="#222" stroke-width="0.8" />
<line x1="224.30" y1="479.70" x2="240.30" y2="479.70" stroke="#222" stroke-width="0.8" />
<line x1="240.30" y1="472.60" x2="240.30" y2="486.50" stroke="#222" stroke-width="0.8" />
<line x1="240.30" y1="472.60" x2="242.50" y2="472.60" stroke="#222" stroke-width="0.8" />
<line x1="242.50" y1="468.30" x2="242.50" y2="477.00" stroke="#222" stroke-width="0.8" />
<line x1="242.50" y1="468.30" x2="246.50" y2="468.30" stroke="#222" stroke-width="0.8" />
<line x1="246.50" y1="465.00" x2="246.50" y2="471.00" stroke="#222" stroke-width="0.8" />
<line x1="246.50" y1="465.00" x2="250.70" y2="465.00" stroke="#222" stroke-width="0.8" />
<line x1="246.50" y1="471.00" x2="250.70" y2="471.00" stroke="#222" stroke-width="0.8" />
<line x1="242.50" y1="477.00" x2="250.70" y2="477.00" stroke="#222" stroke-width="0.8" />
<line x1="240.30" y1="486.50" x2="244.60" y2="486.50" stroke="#222" stroke-width="0.8" />
<line x1="244.60" y1="483.00" x2="244.60" y2="489.00" stroke="#222" stroke-width="0.8" />
<line x1="244.60" y1="483.00" x2="250.70" y2="483.00" stroke="#222" stroke-width="0.8" />
<line x1="244.60" y1="489.00" x2="250.70" y2="489.00" stroke="#222" stroke-width="0.8" />
<line x1="224.30" y1="582.50" x2="242.20" y2="582.50" stroke="#222" stroke-width="0.8" />
<line x1="242.20" y1="561.00" x2="242.20" y2="610.00" stroke="#222" stroke-width="0.8" />
<line x1="242.20" y1="561.00" x2="245.50" y2="561.00" stroke="#222" stroke-width="0.8" />
<line x1="242.20" y1="610.00" x2="245.50" y2="610.00" stroke="#222" stroke-width="0.8" />
<line x1="245.50" y1="530.00" x2="245.50" y2="590.00" stroke="#222" stroke-width="0.8" />
<line x1="245.50" y1="596.00" x2="245.50" y2="624.00" stroke="#222" stroke-width="0.8" />
<line x1="247.60" y1="495.00" x2="247.60" y2="537.00" stroke="#222" stroke-width="0.8" />
<line x1="248.20" y1="537.00" x2="248.20" y2="585.00" stroke="#222" stroke-width="0.8" />
<line x1="247.80" y1="591.00" x2="247.80" y2="627.00" stroke="#222" stroke-width="0.8" />
<line x1="245.50" y1="530.00" x2="247.60" y2="530.00" stroke="#222" stroke-width="0.8" />
<line x1="245.50" y1="590.00" x2="248.20" y2="590.00" stroke="#222" stroke-width="0.8" />
<line x1="248.20" y1="495.00" x2="250.70" y2="495.00" stroke="#666" stroke-width="0.6" />
<line x1="248.20" y1="501.00" x2="250.70" y2="501.00" stroke="#666" stroke-width="0.6" />
<line x1="248.20" y1="507.00" x2="250.70" y2="507.00" stroke="#666" stroke-width="0.6" />
<line x1="248.20" y1="513.00" x2="250.70" y2="513.00" stroke="#666" stroke-width="0.6" />
<line x1="248.20" y1="519.00" x2="250.70" y2="519.00" stroke="#666" stroke-width="0.6" />
<line x1="248.20" y1="525.00" x2="250.70" y2="525.00" stroke="#666" stroke-width="0.6" />
<line x1="248.20" y1="531.00" x2="250.70" y2="531.00" stroke="#666" stroke-width="0.6" />
<line x1="248.20" y1="537.00" x2="250.70" y2="537.00" stroke="#666" stroke-width="0.6" />
<line x1="248.20" y1="543.00" x2="250.70" y2="543.00" stroke="#666" stroke-width="0.6" />
<line x1="248.20" y1="549.00" x2="250.70" y2="549.00" stroke="#666" stroke-width="0.6" />
<line x1="248.20" y1="555.00" x2="250.70" y2="555.00" stroke="#666" stroke-width="0.6" />
<line x1="248.20" y1="561.00" x2="250.70" y2="561.00" stroke="#666" stroke-width="0.6" />
<line x1="248.20" y1="567.00" x2="250.70" y2="567.00" stroke="#666" stroke-width="0.6" />
<line x1="248.20" y1="573.00" x2="250.70" y2="573.00" stroke="#666" stroke-width="0.6" />
<line x1="248.20" y1="579.00" x2="250.70" y2="579.00" stroke="#666" stroke-width="0.6" />
<line x1="248.20" y1="585.00" x2="250.70" y2="585.00" stroke="#666" stroke-width="0.6" />
<line x1="248.20" y1="591.00" x2="250.70" y2="591.00" stroke="#666" stroke-width="0.6" />
<line x1="248.20" y1="597.00" x2="250.70" y2="597.00" stroke="#666" stroke-width="0.6" />
<line x1="248.20" y1="603.00" x2="250.70" y2="603.00" stroke="#666" stroke-width="0.6" />
<line x1="248.20" y1="609.00" x2="250.70" y2="609.00" stroke="#666" stroke-width="0.6" />
<line x1="248.20" y1="615.00" x2="250.70" y2="615.00" stroke="#666" stroke-width="0.6" />
<line x1="248.20" y1="621.00" x2="250.70" y2="621.00" stroke="#666" stroke-width="0.6" />
<line x1="248.20" y1="627.00" x2="250.70" y2="627.00" stroke="#666" stroke-width="0.6" />
<rect x="0.00" y="0.00" width="520.00" height="1.30" fill="#000" />
<rect x="0.00" y="0.00" width="1.20" height="687.00" fill="#000" />
<rect x="518.60" y="0.00" width="1.40" height="687.00" fill="#000" />
<rect x="0.00" y="685.50" width="520.00" height="1.50" fill="#000" />
</svg>
</body></html>
